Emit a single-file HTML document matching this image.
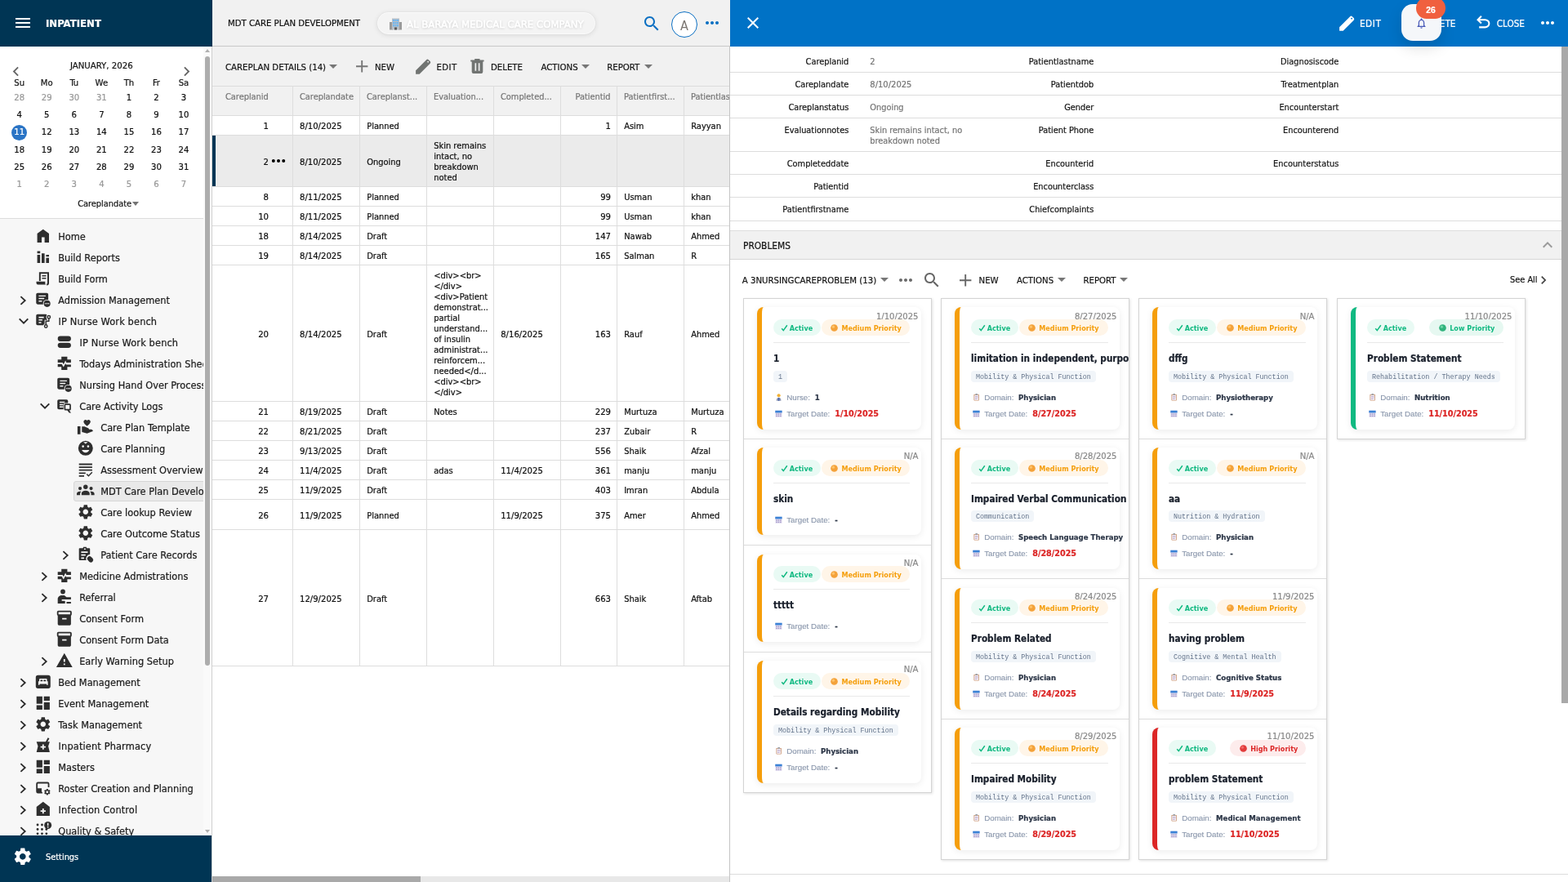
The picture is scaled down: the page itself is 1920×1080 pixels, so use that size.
<!DOCTYPE html>
<html lang="en"><head><meta charset="utf-8"><title>MDT Care Plan Development</title>
<style>
*{box-sizing:border-box;margin:0;padding:0}
html,body{width:1920px;height:1080px;overflow:hidden;background:#fff}
body{font-family:'DejaVu Sans Condensed','Liberation Sans',sans-serif;font-size:11.2px;color:#111;position:relative;-webkit-font-smoothing:antialiased}
.a,.t,.i{position:absolute}
.t{white-space:pre;display:block;-webkit-text-stroke:.22px currentColor}
.i{display:block;overflow:visible}
#side{left:0;top:0;width:260px;height:1080px;background:#f7f7f7;overflow:hidden}
#main{left:260px;top:0;width:634px;height:1080px;background:#fff;overflow:hidden}
#right{left:894px;top:0;width:1026px;height:1080px;background:#fff;overflow:hidden}
.hl{position:absolute;height:1px;background:#ddd}
.vl{position:absolute;width:1px;background:#ddd}
.tree .t{font-size:12.65px;color:#1c1c1c;line-height:20px}
.cell{position:absolute;left:0;width:229px}
.card{position:absolute;border-radius:8px;border-left:6px solid #f59e0b;background:#fff;box-shadow:0 2px 8px rgba(0,0,0,.08)}
.cb{position:absolute;left:0;top:0;right:0;bottom:0}
.bdg{position:absolute;height:20px;padding-top:1px;border-radius:10px;font-weight:700;font-size:9px;line-height:20px;white-space:pre}
.tag{position:absolute;left:14px;height:14px;border-radius:4px;background:#f1f5f9;color:#64748b;font-family:'Liberation Mono','DejaVu Sans Mono',monospace;font-size:8.4px;line-height:16px;padding:0 6px;white-space:pre}
.col{position:absolute;top:365px;border:1px solid #d4d4d4;background:#fff;box-shadow:1px 1px 3px rgba(0,0,0,.12);overflow:hidden}
</style></head>
<body>
<div id="side" class="a">
<div class="a" style="left:0;top:0;width:260px;height:57px;background:#003554"></div>
<svg class="i" style="left:16px;top:16px;width:24px;height:24px;fill:#fff;" viewBox="0 0 24 24"><path d="M3 18h18v-2H3v2zm0-5h18v-2H3v2zm0-7v2h18V6H3z"/></svg><span class="t" style="top:19.00px;line-height:20px;font-size:13.05px;color:#fff;font-weight:700;left:56px;">INPATIENT</span><div class="a" style="left:0;top:57px;width:250px;height:210px;background:#fff"></div>
<div class="hl" style="left:0;top:267px;width:249px"></div>
<span class="t" style="top:71.30px;line-height:20px;font-size:11.3px;color:#161616;left:-25.700000000000003px;width:300px;text-align:center;">JANUARY, 2026</span><svg class="i" style="left:7.7px;top:75.5px;width:23px;height:23px;fill:#666;" viewBox="0 0 24 24"><path d="M15.41 7.41L14 6l-6 6 6 6 1.41-1.41L10.83 12z"/></svg><svg class="i" style="left:217.2px;top:75.5px;width:23px;height:23px;fill:#666;" viewBox="0 0 24 24"><path d="M10 6L8.59 7.41 13.17 12l-4.58 4.59L10 18l6-6z"/></svg><span class="t" style="top:92.00px;line-height:20px;font-size:11.2px;color:#161616;left:-126.3px;width:300px;text-align:center;">Su</span><span class="t" style="top:92.00px;line-height:20px;font-size:11.2px;color:#161616;left:-92.75px;width:300px;text-align:center;">Mo</span><span class="t" style="top:92.00px;line-height:20px;font-size:11.2px;color:#161616;left:-59.2px;width:300px;text-align:center;">Tu</span><span class="t" style="top:92.00px;line-height:20px;font-size:11.2px;color:#161616;left:-25.650000000000006px;width:300px;text-align:center;">We</span><span class="t" style="top:92.00px;line-height:20px;font-size:11.2px;color:#161616;left:7.899999999999977px;width:300px;text-align:center;">Th</span><span class="t" style="top:92.00px;line-height:20px;font-size:11.2px;color:#161616;left:41.44999999999999px;width:300px;text-align:center;">Fr</span><span class="t" style="top:92.00px;line-height:20px;font-size:11.2px;color:#161616;left:74.99999999999997px;width:300px;text-align:center;">Sa</span><span class="t" style="top:110.20px;line-height:20px;font-size:11.2px;color:#999;left:-126.3px;width:300px;text-align:center;">28</span><span class="t" style="top:110.20px;line-height:20px;font-size:11.2px;color:#999;left:-92.75px;width:300px;text-align:center;">29</span><span class="t" style="top:110.20px;line-height:20px;font-size:11.2px;color:#999;left:-59.2px;width:300px;text-align:center;">30</span><span class="t" style="top:110.20px;line-height:20px;font-size:11.2px;color:#999;left:-25.650000000000006px;width:300px;text-align:center;">31</span><span class="t" style="top:110.20px;line-height:20px;font-size:11.2px;color:#101010;left:7.899999999999977px;width:300px;text-align:center;">1</span><span class="t" style="top:110.20px;line-height:20px;font-size:11.2px;color:#101010;left:41.44999999999999px;width:300px;text-align:center;">2</span><span class="t" style="top:110.20px;line-height:20px;font-size:11.2px;color:#101010;left:74.99999999999997px;width:300px;text-align:center;">3</span>
<span class="t" style="top:131.30px;line-height:20px;font-size:11.2px;color:#101010;left:-126.3px;width:300px;text-align:center;">4</span><span class="t" style="top:131.30px;line-height:20px;font-size:11.2px;color:#101010;left:-92.75px;width:300px;text-align:center;">5</span><span class="t" style="top:131.30px;line-height:20px;font-size:11.2px;color:#101010;left:-59.2px;width:300px;text-align:center;">6</span><span class="t" style="top:131.30px;line-height:20px;font-size:11.2px;color:#101010;left:-25.650000000000006px;width:300px;text-align:center;">7</span><span class="t" style="top:131.30px;line-height:20px;font-size:11.2px;color:#101010;left:7.899999999999977px;width:300px;text-align:center;">8</span><span class="t" style="top:131.30px;line-height:20px;font-size:11.2px;color:#101010;left:41.44999999999999px;width:300px;text-align:center;">9</span><span class="t" style="top:131.30px;line-height:20px;font-size:11.2px;color:#101010;left:74.99999999999997px;width:300px;text-align:center;">10</span>
<div class="a" style="left:14.0px;top:152.5px;width:19px;height:19px;border-radius:50%;background:#2a74c5"></div><span class="t" style="top:152.40px;line-height:20px;font-size:11.2px;color:#fff;left:-126.3px;width:300px;text-align:center;">11</span><span class="t" style="top:152.40px;line-height:20px;font-size:11.2px;color:#101010;left:-92.75px;width:300px;text-align:center;">12</span><span class="t" style="top:152.40px;line-height:20px;font-size:11.2px;color:#101010;left:-59.2px;width:300px;text-align:center;">13</span><span class="t" style="top:152.40px;line-height:20px;font-size:11.2px;color:#101010;left:-25.650000000000006px;width:300px;text-align:center;">14</span><span class="t" style="top:152.40px;line-height:20px;font-size:11.2px;color:#101010;left:7.899999999999977px;width:300px;text-align:center;">15</span><span class="t" style="top:152.40px;line-height:20px;font-size:11.2px;color:#101010;left:41.44999999999999px;width:300px;text-align:center;">16</span><span class="t" style="top:152.40px;line-height:20px;font-size:11.2px;color:#101010;left:74.99999999999997px;width:300px;text-align:center;">17</span>
<span class="t" style="top:173.50px;line-height:20px;font-size:11.2px;color:#101010;left:-126.3px;width:300px;text-align:center;">18</span><span class="t" style="top:173.50px;line-height:20px;font-size:11.2px;color:#101010;left:-92.75px;width:300px;text-align:center;">19</span><span class="t" style="top:173.50px;line-height:20px;font-size:11.2px;color:#101010;left:-59.2px;width:300px;text-align:center;">20</span><span class="t" style="top:173.50px;line-height:20px;font-size:11.2px;color:#101010;left:-25.650000000000006px;width:300px;text-align:center;">21</span><span class="t" style="top:173.50px;line-height:20px;font-size:11.2px;color:#101010;left:7.899999999999977px;width:300px;text-align:center;">22</span><span class="t" style="top:173.50px;line-height:20px;font-size:11.2px;color:#101010;left:41.44999999999999px;width:300px;text-align:center;">23</span><span class="t" style="top:173.50px;line-height:20px;font-size:11.2px;color:#101010;left:74.99999999999997px;width:300px;text-align:center;">24</span>
<span class="t" style="top:194.60px;line-height:20px;font-size:11.2px;color:#101010;left:-126.3px;width:300px;text-align:center;">25</span><span class="t" style="top:194.60px;line-height:20px;font-size:11.2px;color:#101010;left:-92.75px;width:300px;text-align:center;">26</span><span class="t" style="top:194.60px;line-height:20px;font-size:11.2px;color:#101010;left:-59.2px;width:300px;text-align:center;">27</span><span class="t" style="top:194.60px;line-height:20px;font-size:11.2px;color:#101010;left:-25.650000000000006px;width:300px;text-align:center;">28</span><span class="t" style="top:194.60px;line-height:20px;font-size:11.2px;color:#101010;left:7.899999999999977px;width:300px;text-align:center;">29</span><span class="t" style="top:194.60px;line-height:20px;font-size:11.2px;color:#101010;left:41.44999999999999px;width:300px;text-align:center;">30</span><span class="t" style="top:194.60px;line-height:20px;font-size:11.2px;color:#101010;left:74.99999999999997px;width:300px;text-align:center;">31</span>
<span class="t" style="top:215.70px;line-height:20px;font-size:11.2px;color:#999;left:-126.3px;width:300px;text-align:center;">1</span><span class="t" style="top:215.70px;line-height:20px;font-size:11.2px;color:#999;left:-92.75px;width:300px;text-align:center;">2</span><span class="t" style="top:215.70px;line-height:20px;font-size:11.2px;color:#999;left:-59.2px;width:300px;text-align:center;">3</span><span class="t" style="top:215.70px;line-height:20px;font-size:11.2px;color:#999;left:-25.650000000000006px;width:300px;text-align:center;">4</span><span class="t" style="top:215.70px;line-height:20px;font-size:11.2px;color:#999;left:7.899999999999977px;width:300px;text-align:center;">5</span><span class="t" style="top:215.70px;line-height:20px;font-size:11.2px;color:#999;left:41.44999999999999px;width:300px;text-align:center;">6</span><span class="t" style="top:215.70px;line-height:20px;font-size:11.2px;color:#999;left:74.99999999999997px;width:300px;text-align:center;">7</span>
<span class="t" style="top:240.00px;line-height:20px;font-size:10.9px;color:#161616;left:95.2px;">Careplandate</span><div class="a" style="left:161.700px;top:247px;border-left:4.700px solid transparent;border-right:4.700px solid transparent;border-top:5.200px solid #747474"></div>
<div class="a tree" style="left:0;top:268px;width:249px;height:755px;overflow:hidden">
<svg class="i" style="left:42.2px;top:9.9px;width:21.6px;height:21.6px;fill:#2e2e2e;color:#2e2e2e;" viewBox="0 0 24 24"><path d="M4 21V9l8-6 8 6v12h-6v-7h-4v7z"/></svg><span class="t" style="top:12.00px;line-height:20px;font-size:12.65px;color:#1c1c1c;left:71.2px;">Home</span>
<svg class="i" style="left:42.2px;top:35.9px;width:21.6px;height:21.6px;fill:#2e2e2e;color:#2e2e2e;" viewBox="0 0 24 24"><path d="M4 9h4v11H4zM4 4h4v3H4zM10 7h4v13h-4zM16 13h4v7h-4zM16 9h4v2.5h-4z"/></svg><span class="t" style="top:38.00px;line-height:20px;font-size:12.65px;color:#1c1c1c;left:71.2px;">Build Reports</span>
<svg class="i" style="left:42.2px;top:61.9px;width:21.6px;height:21.6px;fill:#2e2e2e;color:#2e2e2e;" viewBox="0 0 24 24"><path d="M7.600 15.500V4.600h11.300v14a2 2 0 0 1-2 2" fill="none" stroke="currentColor" stroke-width="2.200"/><path d="M10.500 8.600h5.600M10.500 12h5.600" fill="none" stroke="currentColor" stroke-width="1.800"/><path d="M2.800 16.300h12v2.200a2 2 0 0 0 2 2.100H5a2.200 2.200 0 0 1-2.200-2.200z"/></svg><span class="t" style="top:64.00px;line-height:20px;font-size:12.65px;color:#1c1c1c;left:71.2px;">Build Form</span>
<svg class="i" style="left:18.4px;top:89.5px;width:20px;height:20px" viewBox="0 0 20 20"><path d="M7.400 5.200 12.700 10 7.400 14.800" fill="none" stroke="#2b2b2b" stroke-width="1.800"/></svg><svg class="i" style="left:42.2px;top:87.9px;width:21.6px;height:21.6px;fill:#2e2e2e;color:#2e2e2e;" viewBox="0 0 24 24"><path d="M4.500 3h12.500a2 2 0 0 1 2 2v11.500a2 2 0 0 1-2 2H4.500a2 2 0 0 1-2-2V5a2 2 0 0 1 2-2zM6 6.300v1.600h9.500V6.300zM6 9.800v1.600h7.500V9.800zM6 13.300v1.600h4.500v-1.600z" fill-rule="evenodd"/><circle cx="17.400" cy="17.600" r="5.500" fill="#f7f7f7"/><circle cx="17.400" cy="17.600" r="4.500"/><circle cx="15.300" cy="17.600" r=".85" fill="#f7f7f7"/><circle cx="17.400" cy="17.600" r=".85" fill="#f7f7f7"/><circle cx="19.500" cy="17.600" r=".85" fill="#f7f7f7"/></svg><span class="t" style="top:90.00px;line-height:20px;font-size:12.65px;color:#1c1c1c;left:71.2px;">Admission Management</span>
<svg class="i" style="left:19px;top:115.5px;width:20px;height:20px" viewBox="0 0 20 20"><path d="M4.700 6.400 10 11.700 15.300 6.400" fill="none" stroke="#2b2b2b" stroke-width="1.900"/></svg><svg class="i" style="left:42.2px;top:113.9px;width:21.6px;height:21.6px;fill:#2e2e2e;color:#2e2e2e;" viewBox="0 0 24 24"><path d="M4.500 3h11a2 2 0 0 1 2 2v11a2 2 0 0 1-2 2h-11a2 2 0 0 1-2-2V5a2 2 0 0 1 2-2zM6 6.500v1.700h7V6.500zM6 10v1.700h5V10zM6 13.500v1.700h3.500v-1.700z" fill-rule="evenodd"/><path d="M19.800 9v3.500h-4v5" fill="none" stroke="#f7f7f7" stroke-width="3.600"/><circle cx="19.800" cy="7" r="3.600" fill="#f7f7f7"/><circle cx="15.800" cy="19.500" r="3.600" fill="#f7f7f7"/><path d="M19.800 9v3.500h-4v5" fill="none" stroke="currentColor" stroke-width="1.600"/><circle cx="19.800" cy="7" r="1.900" fill="#f7f7f7" stroke="currentColor" stroke-width="1.600"/><circle cx="15.800" cy="19.500" r="1.900" fill="#f7f7f7" stroke="currentColor" stroke-width="1.600"/></svg><span class="t" style="top:116.00px;line-height:20px;font-size:12.65px;color:#1c1c1c;left:71.6px;letter-spacing:.14px;">IP Nurse Work bench</span>
<svg class="i" style="left:68.2px;top:139.9px;width:21.6px;height:21.6px;fill:#2e2e2e;color:#2e2e2e;" viewBox="0 0 24 24"><rect x="3" y="4" width="18" height="7" rx="3.5"/><rect x="3" y="13" width="18" height="7" rx="3.5"/></svg><span class="t" style="top:142.00px;line-height:20px;font-size:12.65px;color:#1c1c1c;left:97.6px;letter-spacing:.14px;">IP Nurse Work bench</span>
<svg class="i" style="left:68.2px;top:165.9px;width:21.6px;height:21.6px;fill:#2e2e2e;color:#2e2e2e;" viewBox="0 0 24 24"><path d="M8 3h8v4h5v4h-6.2l-1.3-2.6-2.6 5.2L9.6 11H3V7h5zM3 13h5.4l2.5 4.3 2.6-5.2.9 1.9H21v3h-5v4H8v-4H3z"/></svg><span class="t" style="top:168.00px;line-height:20px;font-size:12.65px;color:#1c1c1c;left:97.2px;">Todays Administration Sheet</span>
<svg class="i" style="left:68.2px;top:191.9px;width:21.6px;height:21.6px;fill:#2e2e2e;color:#2e2e2e;" viewBox="0 0 24 24"><path d="M4.500 3h12.500a2 2 0 0 1 2 2v11.500a2 2 0 0 1-2 2H4.500a2 2 0 0 1-2-2V5a2 2 0 0 1 2-2zM6 6.300v1.600h9.500V6.300zM6 9.800v1.600h7.500V9.800zM6 13.300v1.600h4.500v-1.600z" fill-rule="evenodd"/><circle cx="17.400" cy="17.600" r="5.500" fill="#f7f7f7"/><circle cx="17.400" cy="17.600" r="4.500"/><circle cx="15.300" cy="17.600" r=".85" fill="#f7f7f7"/><circle cx="17.400" cy="17.600" r=".85" fill="#f7f7f7"/><circle cx="19.500" cy="17.600" r=".85" fill="#f7f7f7"/></svg><span class="t" style="top:194.00px;line-height:20px;font-size:12.65px;color:#1c1c1c;left:97.2px;">Nursing Hand Over Process</span>
<svg class="i" style="left:45px;top:219.5px;width:20px;height:20px" viewBox="0 0 20 20"><path d="M4.700 6.400 10 11.700 15.300 6.400" fill="none" stroke="#2b2b2b" stroke-width="1.900"/></svg><svg class="i" style="left:68.2px;top:217.9px;width:21.6px;height:21.6px;fill:#2e2e2e;color:#2e2e2e;" viewBox="0 0 24 24"><path d="M4.500 3.500h10.500a2 2 0 0 1 2 2v9.500a2 2 0 0 1-2 2H4.500a2 2 0 0 1-2-2V5.500a2 2 0 0 1 2-2zM5.500 6.500v1.600h7V6.500zM5.500 9.700v1.600h5V9.700zM5.500 12.900v1.600h5v-1.600z" fill-rule="evenodd"/><rect x="10.800" y="8.300" width="11.200" height="11.200" rx="2.500" fill="#f7f7f7"/><path d="M13.500 9.300h5.700a1.800 1.800 0 0 1 1.800 1.800v5.500a1.800 1.800 0 0 1-1.800 1.800h-.6l2.600 3.400h-2.600l-2.600-3.400h-2.500a1.800 1.800 0 0 1-1.800-1.800v-5.500a1.800 1.800 0 0 1 1.800-1.800zM13.600 11.200v5.300h5.500v-5.300z" fill-rule="evenodd"/></svg><span class="t" style="top:220.00px;line-height:20px;font-size:12.65px;color:#1c1c1c;left:97.2px;">Care Activity Logs</span>
<svg class="i" style="left:94.2px;top:243.9px;width:21.6px;height:21.6px;fill:#2e2e2e;color:#2e2e2e;" viewBox="0 0 24 24"><path d="M16 2.2c1.5 0 2.7 1.2 2.7 2.7 0 2-2.600 3.900-4.700 5.800-2.100-1.900-4.700-3.800-4.700-5.800 0-1.500 1.200-2.700 2.700-2.700.8 0 1.500.400 2 1 .5-.6 1.200-1 2-1zM1 11h4v11H1zM7 11.500h3.500l5 2c.8.3 1.200 1 1.100 1.800h2.900c1.400 0 2.500 1.100 2.500 2.500l-8 3-7-2z"/></svg><span class="t" style="top:246.00px;line-height:20px;font-size:12.65px;color:#1c1c1c;left:123.2px;">Care Plan Template</span>
<svg class="i" style="left:94.2px;top:269.9px;width:21.6px;height:21.6px;fill:#2e2e2e;color:#2e2e2e;" viewBox="0 0 24 24"><path d="M12 2a10 10 0 1 0 0 20 10 10 0 0 0 0-20zM8.500 8a1.500 1.500 0 1 1 0 3 1.500 1.500 0 0 1 0-3zm7 0a1.500 1.500 0 1 1 0 3 1.500 1.500 0 0 1 0-3zM12 18c-2.300 0-4.300-1.400-5.100-3.500h10.200c-.8 2.100-2.800 3.500-5.100 3.500zM9 3.500 12 6l3-2.500" fill-rule="evenodd"/></svg><span class="t" style="top:272.00px;line-height:20px;font-size:12.65px;color:#1c1c1c;left:123.2px;">Care Planning</span>
<svg class="i" style="left:94.2px;top:295.9px;width:21.6px;height:21.6px;fill:#2e2e2e;color:#2e2e2e;" viewBox="0 0 24 24"><path d="M3 4h18v2H3zM3 8h18v2H3zM3 12h18v2H3zM3 16h9v2H3zM3 20h7v2H3zM21.500 16.500 16 22l-3-3 1.200-1.200 1.800 1.800 4.300-4.300z"/></svg><span class="t" style="top:298.00px;line-height:20px;font-size:12.65px;color:#1c1c1c;left:123.2px;">Assessment Overview</span>
<div class="a" style="left:90px;top:321.0px;width:170px;height:25px;background:#e9e9e9;border:1px solid #d6d6d6;border-radius:3px"></div><svg class="i" style="left:94.2px;top:321.9px;width:21.6px;height:21.6px;fill:#2e2e2e;color:#2e2e2e;" viewBox="0 0 24 24"><circle cx="12" cy="7" r="3"/><circle cx="4.500" cy="9" r="2.300"/><circle cx="19.500" cy="9" r="2.300"/><path d="M6.500 18v-2.500c0-2 2.500-3.500 5.500-3.500s5.500 1.500 5.500 3.500V18zM0 18v-2c0-1.700 1.800-3 4.500-3 .5 0 1 .1 1.400.2-.8.800-1.400 1.800-1.400 3V18zM24 18v-2c0-1.700-1.800-3-4.500-3-.5 0-1 .1-1.400.2.800.800 1.400 1.800 1.400 3V18z"/></svg><span class="t" style="top:324.00px;line-height:20px;font-size:12.65px;color:#1c1c1c;left:123.2px;">MDT Care Plan Development</span>
<svg class="i" style="left:94.2px;top:347.9px;width:21.6px;height:21.6px;fill:#2e2e2e;color:#2e2e2e;" viewBox="0 0 24 24"><path d="M19.14 12.94c.04-.3.06-.61.06-.94 0-.32-.02-.64-.07-.94l2.03-1.58c.18-.14.23-.41.12-.61l-1.92-3.32c-.12-.22-.37-.29-.59-.22l-2.39.96c-.5-.38-1.03-.7-1.62-.94l-.36-2.54c-.04-.24-.24-.41-.48-.41h-3.84c-.24 0-.43.17-.47.41l-.36 2.54c-.59.24-1.13.57-1.62.94l-2.39-.96c-.22-.08-.47 0-.59.22L2.74 8.87c-.12.21-.08.47.12.61l2.03 1.58c-.05.3-.09.63-.09.94s.02.64.07.94l-2.03 1.58c-.18.14-.23.41-.12.61l1.92 3.32c.12.22.37.29.59.22l2.39-.96c.5.38 1.03.7 1.62.94l.36 2.54c.05.24.24.41.48.41h3.84c.24 0 .44-.17.47-.41l.36-2.54c.59-.24 1.13-.56 1.62-.94l2.39.96c.22.08.47 0 .59-.22l1.92-3.32c.12-.22.07-.47-.12-.61l-2.01-1.58zM12 15.6c-1.98 0-3.6-1.62-3.6-3.6s1.62-3.6 3.6-3.6 3.6 1.62 3.6 3.6-1.62 3.6-3.6 3.6z"/></svg><span class="t" style="top:350.00px;line-height:20px;font-size:12.65px;color:#1c1c1c;left:123.2px;">Care lookup Review</span>
<svg class="i" style="left:94.2px;top:373.9px;width:21.6px;height:21.6px;fill:#2e2e2e;color:#2e2e2e;" viewBox="0 0 24 24"><path d="M19.14 12.94c.04-.3.06-.61.06-.94 0-.32-.02-.64-.07-.94l2.03-1.58c.18-.14.23-.41.12-.61l-1.92-3.32c-.12-.22-.37-.29-.59-.22l-2.39.96c-.5-.38-1.03-.7-1.62-.94l-.36-2.54c-.04-.24-.24-.41-.48-.41h-3.84c-.24 0-.43.17-.47.41l-.36 2.54c-.59.24-1.13.57-1.62.94l-2.39-.96c-.22-.08-.47 0-.59.22L2.74 8.87c-.12.21-.08.47.12.61l2.03 1.58c-.05.3-.09.63-.09.94s.02.64.07.94l-2.03 1.58c-.18.14-.23.41-.12.61l1.92 3.32c.12.22.37.29.59.22l2.39-.96c.5.38 1.03.7 1.62.94l.36 2.54c.05.24.24.41.48.41h3.84c.24 0 .44-.17.47-.41l.36-2.54c.59-.24 1.13-.56 1.62-.94l2.39.96c.22.08.47 0 .59-.22l1.92-3.32c.12-.22.07-.47-.12-.61l-2.01-1.58zM12 15.6c-1.98 0-3.6-1.62-3.6-3.6s1.62-3.6 3.6-3.6 3.6 1.62 3.6 3.6-1.62 3.6-3.6 3.6z"/></svg><span class="t" style="top:376.00px;line-height:20px;font-size:12.65px;color:#1c1c1c;left:123.2px;">Care Outcome Status</span>
<svg class="i" style="left:70.4px;top:401.5px;width:20px;height:20px" viewBox="0 0 20 20"><path d="M7.400 5.200 12.700 10 7.400 14.800" fill="none" stroke="#2b2b2b" stroke-width="1.800"/></svg><svg class="i" style="left:94.2px;top:399.9px;width:21.6px;height:21.6px;fill:#2e2e2e;color:#2e2e2e;" viewBox="0 0 24 24"><path d="M9 2h4l.6 1.500H17a1 1 0 0 1 1 1V12a6 6 0 0 0-5 8H4a1 1 0 0 1-1-1V4.500a1 1 0 0 1 1-1h4.400zM10 4v1.500h2V4zM6 8v2h9V8zM6 12v2h6v-2zM6 16v2h4v-2z" fill-rule="evenodd"/><path d="M15.200 15.600a3.200 3.200 0 0 1 4.500 0l2 2a3.200 3.200 0 0 1-4.500 4.500l-2-2a3.200 3.200 0 0 1 0-4.500z"/></svg><span class="t" style="top:402.00px;line-height:20px;font-size:12.65px;color:#1c1c1c;left:123.2px;">Patient Care Records</span>
<svg class="i" style="left:44.4px;top:427.5px;width:20px;height:20px" viewBox="0 0 20 20"><path d="M7.400 5.200 12.700 10 7.400 14.800" fill="none" stroke="#2b2b2b" stroke-width="1.800"/></svg><svg class="i" style="left:68.2px;top:425.9px;width:21.6px;height:21.6px;fill:#2e2e2e;color:#2e2e2e;" viewBox="0 0 24 24"><path d="M8 3h8v4h5v4h-6.2l-1.3-2.6-2.6 5.2L9.6 11H3V7h5zM3 13h5.4l2.5 4.3 2.6-5.2.9 1.9H21v3h-5v4H8v-4H3z"/></svg><span class="t" style="top:428.00px;line-height:20px;font-size:12.65px;color:#1c1c1c;left:97.2px;">Medicine Admistrations</span>
<svg class="i" style="left:44.4px;top:453.5px;width:20px;height:20px" viewBox="0 0 20 20"><path d="M7.400 5.200 12.700 10 7.400 14.800" fill="none" stroke="#2b2b2b" stroke-width="1.800"/></svg><svg class="i" style="left:68.2px;top:451.9px;width:21.6px;height:21.6px;fill:#2e2e2e;color:#2e2e2e;" viewBox="0 0 24 24"><circle cx="10" cy="5" r="3.200"/><path d="M3 15c0-3 2.500-5 6-5h3l3 2.500h6v3H8.500v2H13V21H3zM15 19h6v2h-6z"/></svg><span class="t" style="top:454.00px;line-height:20px;font-size:12.65px;color:#1c1c1c;left:97.2px;">Referral</span>
<svg class="i" style="left:68.2px;top:477.9px;width:21.6px;height:21.6px;fill:#2e2e2e;color:#2e2e2e;" viewBox="0 0 24 24"><path d="M20 2H4c-1 0-2 .9-2 2v3.01c0 .72.43 1.34 1 1.69V20c0 1.1 1.1 2 2 2h14c.9 0 2-.9 2-2V8.7c.57-.35 1-.97 1-1.69V4c0-1.1-1-2-2-2zm-5 12H9v-2h6v2zm5-7H4V4h16v3z"/></svg><span class="t" style="top:480.00px;line-height:20px;font-size:12.65px;color:#1c1c1c;left:97.2px;">Consent Form</span>
<svg class="i" style="left:68.2px;top:503.9px;width:21.6px;height:21.6px;fill:#2e2e2e;color:#2e2e2e;" viewBox="0 0 24 24"><path d="M20 2H4c-1 0-2 .9-2 2v3.01c0 .72.43 1.34 1 1.69V20c0 1.1 1.1 2 2 2h14c.9 0 2-.9 2-2V8.7c.57-.35 1-.97 1-1.69V4c0-1.1-1-2-2-2zm-5 12H9v-2h6v2zm5-7H4V4h16v3z"/></svg><span class="t" style="top:506.00px;line-height:20px;font-size:12.65px;color:#1c1c1c;left:97.2px;">Consent Form Data</span>
<svg class="i" style="left:44.4px;top:531.5px;width:20px;height:20px" viewBox="0 0 20 20"><path d="M7.400 5.200 12.700 10 7.400 14.800" fill="none" stroke="#2b2b2b" stroke-width="1.800"/></svg><svg class="i" style="left:68.2px;top:529.9px;width:21.6px;height:21.6px;fill:#2e2e2e;color:#2e2e2e;" viewBox="0 0 24 24"><path d="M1 21h22L12 2 1 21zm12-3h-2v-2h2v2zm0-4h-2v-4h2v4z"/></svg><span class="t" style="top:532.00px;line-height:20px;font-size:12.65px;color:#1c1c1c;left:97.2px;">Early Warning Setup</span>
<svg class="i" style="left:18.4px;top:557.5px;width:20px;height:20px" viewBox="0 0 20 20"><path d="M7.400 5.200 12.700 10 7.400 14.800" fill="none" stroke="#2b2b2b" stroke-width="1.800"/></svg><svg class="i" style="left:42.2px;top:555.9px;width:21.6px;height:21.6px;fill:#2e2e2e;color:#2e2e2e;" viewBox="0 0 24 24"><path d="M5 3h14a3 3 0 0 1 3 3v12a3 3 0 0 1-3 3H5a3 3 0 0 1-3-3V6a3 3 0 0 1 3-3zM5.500 16.500v-5h1.200V9a1.200 1.200 0 0 1 1.200-1.200h8.200A1.200 1.200 0 0 1 17.300 9v2.500h1.200v5h-1.700v-1.500H7.200v1.500zM8.300 9.500v2h3v-2zm4.400 0v2h3v-2z" fill-rule="evenodd"/></svg><span class="t" style="top:558.00px;line-height:20px;font-size:12.65px;color:#1c1c1c;left:71.2px;">Bed Management</span>
<svg class="i" style="left:18.4px;top:583.5px;width:20px;height:20px" viewBox="0 0 20 20"><path d="M7.400 5.200 12.700 10 7.400 14.800" fill="none" stroke="#2b2b2b" stroke-width="1.800"/></svg><svg class="i" style="left:42.2px;top:581.9px;width:21.6px;height:21.6px;fill:#2e2e2e;color:#2e2e2e;" viewBox="0 0 24 24"><path d="M3 13h8V3H3v10zm0 8h8v-6H3v6zm10 0h8V11h-8v10zm0-18v6h8V3h-8z"/></svg><span class="t" style="top:584.00px;line-height:20px;font-size:12.65px;color:#1c1c1c;left:71.2px;">Event Management</span>
<svg class="i" style="left:18.4px;top:609.5px;width:20px;height:20px" viewBox="0 0 20 20"><path d="M7.400 5.200 12.700 10 7.400 14.800" fill="none" stroke="#2b2b2b" stroke-width="1.800"/></svg><svg class="i" style="left:42.2px;top:607.9px;width:21.6px;height:21.6px;fill:#2e2e2e;color:#2e2e2e;" viewBox="0 0 24 24"><path d="M19.14 12.94c.04-.3.06-.61.06-.94 0-.32-.02-.64-.07-.94l2.03-1.58c.18-.14.23-.41.12-.61l-1.92-3.32c-.12-.22-.37-.29-.59-.22l-2.39.96c-.5-.38-1.03-.7-1.62-.94l-.36-2.54c-.04-.24-.24-.41-.48-.41h-3.84c-.24 0-.43.17-.47.41l-.36 2.54c-.59.24-1.13.57-1.62.94l-2.39-.96c-.22-.08-.47 0-.59.22L2.74 8.87c-.12.21-.08.47.12.61l2.03 1.58c-.05.3-.09.63-.09.94s.02.64.07.94l-2.03 1.58c-.18.14-.23.41-.12.61l1.92 3.32c.12.22.37.29.59.22l2.39-.96c.5.38 1.03.7 1.62.94l.36 2.54c.05.24.24.41.48.41h3.84c.24 0 .44-.17.47-.41l.36-2.54c.59-.24 1.13-.56 1.62-.94l2.39.96c.22.08.47 0 .59-.22l1.92-3.32c.12-.22.07-.47-.12-.61l-2.01-1.58zM12 15.6c-1.98 0-3.6-1.62-3.6-3.6s1.62-3.6 3.6-3.6 3.6 1.62 3.6 3.6-1.62 3.6-3.6 3.6z"/></svg><span class="t" style="top:610.00px;line-height:20px;font-size:12.65px;color:#1c1c1c;left:71.2px;">Task Management</span>
<svg class="i" style="left:18.4px;top:635.5px;width:20px;height:20px" viewBox="0 0 20 20"><path d="M7.400 5.200 12.700 10 7.400 14.800" fill="none" stroke="#2b2b2b" stroke-width="1.800"/></svg><svg class="i" style="left:42.2px;top:633.9px;width:21.6px;height:21.6px;fill:#2e2e2e;color:#2e2e2e;" viewBox="0 0 24 24"><path d="M18.500 1.500 20.500 2.500 18 7h3l-2 6 2 8H3l2-8-2-6h12.500zM11 10.500v2.500H8.500v2H11v2.500h2V15h2.500v-2H13v-2.500z" fill-rule="evenodd"/></svg><span class="t" style="top:636.00px;line-height:20px;font-size:12.65px;color:#1c1c1c;left:71.6px;letter-spacing:.14px;">Inpatient Pharmacy</span>
<svg class="i" style="left:18.4px;top:661.5px;width:20px;height:20px" viewBox="0 0 20 20"><path d="M7.400 5.200 12.700 10 7.400 14.800" fill="none" stroke="#2b2b2b" stroke-width="1.800"/></svg><svg class="i" style="left:42.2px;top:659.9px;width:21.6px;height:21.6px;fill:#2e2e2e;color:#2e2e2e;" viewBox="0 0 24 24"><path d="M3 13h8V3H3v10zm0 8h8v-6H3v6zm10 0h8V11h-8v10zm0-18v6h8V3h-8z"/></svg><span class="t" style="top:662.00px;line-height:20px;font-size:12.65px;color:#1c1c1c;left:71.2px;">Masters</span>
<svg class="i" style="left:18.4px;top:687.5px;width:20px;height:20px" viewBox="0 0 20 20"><path d="M7.400 5.200 12.700 10 7.400 14.800" fill="none" stroke="#2b2b2b" stroke-width="1.800"/></svg><svg class="i" style="left:42.2px;top:685.9px;width:21.6px;height:21.6px;fill:#2e2e2e;color:#2e2e2e;" viewBox="0 0 24 24"><path d="M19.500 11V6.500a1.500 1.500 0 0 0-1.500-1.500H5a1.500 1.500 0 0 0-1.500 1.500V17a1.500 1.500 0 0 0 1.500 1.500h6" fill="none" stroke="currentColor" stroke-width="2"/><path d="M3.500 12.500h6.500v6H5a1.500 1.500 0 0 1-1.500-1.500z"/><g transform="translate(12.300 12.300) scale(.44)"><path d="M19.14 12.94c.04-.3.06-.61.06-.94 0-.32-.02-.64-.07-.94l2.03-1.58c.18-.14.23-.41.12-.61l-1.92-3.32c-.12-.22-.37-.29-.59-.22l-2.39.96c-.5-.38-1.03-.7-1.62-.94l-.36-2.54c-.04-.24-.24-.41-.48-.41h-3.84c-.24 0-.43.17-.47.41l-.36 2.54c-.59.24-1.13.57-1.62.94l-2.39-.96c-.22-.08-.47 0-.59.22L2.74 8.87c-.12.21-.08.47.12.61l2.03 1.58c-.05.3-.09.63-.09.94s.02.64.07.94l-2.03 1.58c-.18.14-.23.41-.12.61l1.92 3.32c.12.22.37.29.59.22l2.39-.96c.5.38 1.03.7 1.62.94l.36 2.54c.05.24.24.41.48.41h3.84c.24 0 .44-.17.47-.41l.36-2.54c.59-.24 1.13-.56 1.62-.94l2.39.96c.22.08.47 0 .59-.22l1.92-3.32c.12-.22.07-.47-.12-.61l-2.01-1.58zM12 15.6c-1.98 0-3.6-1.62-3.6-3.6s1.62-3.6 3.6-3.6 3.6 1.62 3.6 3.6-1.62 3.6-3.6 3.6z"/></g></svg><span class="t" style="top:688.00px;line-height:20px;font-size:12.65px;color:#1c1c1c;left:71.2px;">Roster Creation and Planning</span>
<svg class="i" style="left:18.4px;top:713.5px;width:20px;height:20px" viewBox="0 0 20 20"><path d="M7.400 5.200 12.700 10 7.400 14.800" fill="none" stroke="#2b2b2b" stroke-width="1.800"/></svg><svg class="i" style="left:42.2px;top:711.9px;width:21.6px;height:21.6px;fill:#2e2e2e;color:#2e2e2e;" viewBox="0 0 24 24"><path d="M12 2l9 7v12H3V9zM11 11v2.500H8.500v2H11V18h2v-2.500h2.500v-2H13V11z" fill-rule="evenodd"/></svg><span class="t" style="top:714.00px;line-height:20px;font-size:12.65px;color:#1c1c1c;left:71.6px;letter-spacing:.14px;">Infection Control</span>
<svg class="i" style="left:18.4px;top:739.5px;width:20px;height:20px" viewBox="0 0 20 20"><path d="M7.400 5.200 12.700 10 7.400 14.800" fill="none" stroke="#2b2b2b" stroke-width="1.800"/></svg><svg class="i" style="left:42.2px;top:737.9px;width:21.6px;height:21.6px;fill:#2e2e2e;color:#2e2e2e;" viewBox="0 0 24 24"><circle cx="4.5" cy="10.5" r="1.600"/><circle cx="4.5" cy="16.5" r="1.600"/><circle cx="4.5" cy="22.5" r="1.600"/><circle cx="10.5" cy="10.5" r="1.600"/><circle cx="10.5" cy="16.5" r="1.600"/><circle cx="10.5" cy="22.5" r="1.600"/><circle cx="16.5" cy="10.5" r="1.600"/><circle cx="16.5" cy="16.5" r="1.600"/><circle cx="16.5" cy="22.5" r="1.600"/><circle cx="4.500" cy="4.500" r="1.600"/><circle cx="10.500" cy="4.500" r="1.600"/><circle cx="18.500" cy="5" r="5"/><rect x="17.700" y="1.800" width="1.600" height="4" fill="#f7f7f7"/><rect x="17.700" y="6.700" width="1.600" height="1.600" fill="#f7f7f7"/></svg><span class="t" style="top:740.00px;line-height:20px;font-size:12.65px;color:#1c1c1c;left:71.2px;">Quality &amp; Safety</span>
</div>
<div class="a" style="left:249px;top:57px;width:10px;height:966px;background:#fafafa"></div><div class="a" style="left:251px;top:60px;border-left:3px solid transparent;border-right:3px solid transparent;border-bottom:4px solid #b0b0b0"></div><div class="a" style="left:251px;top:1016px;border-left:3px solid transparent;border-right:3px solid transparent;border-top:4px solid #b0b0b0"></div><div class="a" style="left:251px;top:69px;width:6px;height:746px;border-radius:3px;background:#adadad"></div><div class="vl" style="left:259px;top:57px;height:1023px;background:#cfcfcf"></div>
<div class="a" style="left:0;top:1023px;width:259px;height:57px;background:#003554"></div><svg class="i" style="left:15.2px;top:1036.2px;width:25.6px;height:25.6px;fill:#fff;" viewBox="0 0 24 24"><path d="M19.14 12.94c.04-.3.06-.61.06-.94 0-.32-.02-.64-.07-.94l2.03-1.58c.18-.14.23-.41.12-.61l-1.92-3.32c-.12-.22-.37-.29-.59-.22l-2.39.96c-.5-.38-1.03-.7-1.62-.94l-.36-2.54c-.04-.24-.24-.41-.48-.41h-3.84c-.24 0-.43.17-.47.41l-.36 2.54c-.59.24-1.13.57-1.62.94l-2.39-.96c-.22-.08-.47 0-.59.22L2.74 8.87c-.12.21-.08.47.12.61l2.03 1.58c-.05.3-.09.63-.09.94s.02.64.07.94l-2.03 1.58c-.18.14-.23.41-.12.61l1.92 3.32c.12.22.37.29.59.22l2.39-.96c.5.38 1.03.7 1.62.94l.36 2.54c.05.24.24.41.48.41h3.84c.24 0 .44-.17.47-.41l.36-2.54c.59-.24 1.13-.56 1.62-.94l2.39.96c.22.08.47 0 .59-.22l1.92-3.32c.12-.22.07-.47-.12-.61l-2.01-1.58zM12 15.6c-1.98 0-3.6-1.62-3.6-3.6s1.62-3.6 3.6-3.6 3.6 1.62 3.6 3.6-1.62 3.6-3.6 3.6z"/></svg><span class="t" style="top:1040.00px;line-height:20px;font-size:10.9px;color:#fff;left:56px;">Settings</span></div>
<div id="main" class="a">
<div class="a" style="left:0;top:0;width:634px;height:141px;background:#f1f1f1"></div><div class="hl" style="left:0;top:56px;width:634px;background:#c9c9c9"></div><span class="t" style="top:19.00px;line-height:20px;font-size:11.25px;color:#111;left:19px;">MDT CARE PLAN DEVELOPMENT</span><div class="a" style="left:202px;top:15px;width:267px;height:27px;border-radius:14px;background:#f4f4f4;border:1px solid rgba(255,255,255,.55);box-shadow:0 1px 6px rgba(0,0,0,.11),0 0 2px rgba(0,0,0,.05)"></div><svg class="i" style="left:216.5px;top:21.5px;width:15px;height:15px" viewBox="0 0 15 15"><rect x="0" y="5" width="4" height="9.5" fill="#9a9a9a"/><rect x="11" y="5" width="4" height="9.5" fill="#9a9a9a"/><rect x="3" y="0.500" width="9" height="14" fill="#b9bfc6"/><g fill="#6fb7f0"><rect x="4" y="1.800" width="2" height="2.200"/><rect x="6.500" y="1.800" width="2" height="2.200"/><rect x="9" y="1.800" width="2" height="2.200"/><rect x="4" y="5" width="2" height="2.200"/><rect x="6.500" y="5" width="2" height="2.200"/><rect x="9" y="5" width="2" height="2.200"/><rect x="4" y="8.200" width="2" height="2.200"/><rect x="6.500" y="8.200" width="2" height="2.200"/><rect x="9" y="8.200" width="2" height="2.200"/></g><rect x="6" y="11.500" width="3" height="3" fill="#5a5a5a"/></svg><span class="t" style="top:20.30px;line-height:20px;font-size:13.05px;color:#fff;left:238px;-webkit-text-stroke:.55px #fff;text-shadow:0 1px 3px rgba(0,0,0,.22);">AL BARAYA MEDICAL CARE COMPANY</span><svg class="i" style="left:526px;top:17px;width:24px;height:24px;fill:#0b6fc2;" viewBox="0 0 24 24"><path d="M15.5 14h-.79l-.28-.27C15.41 12.59 16 11.11 16 9.5 16 5.91 13.09 3 9.5 3S3 5.91 3 9.5 5.91 16 9.5 16c1.61 0 3.09-.59 4.23-1.57l.27.28v.79l5 4.99L20.49 19l-4.99-5zm-6 0C7.01 14 5 11.99 5 9.5S7.01 5 9.5 5 14 7.01 14 9.5 11.99 14 9.5 14z"/></svg><div class="a" style="left:562px;top:14px;width:32px;height:32px;border-radius:50%;border:1.5px solid #0b6fc2;background:#fff"></div><span class="t" style="top:21.50px;line-height:20px;font-size:16px;color:#7a7570;left:428px;width:300px;text-align:center;-webkit-text-stroke:0;">A</span><svg class="i" style="left:600px;top:16px;width:24px;height:24px;fill:#0b6fc2;" viewBox="0 0 24 24"><path d="M6 10c-1.1 0-2 .9-2 2s.9 2 2 2 2-.9 2-2-.9-2-2-2zm12 0c-1.1 0-2 .9-2 2s.9 2 2 2 2-.9 2-2-.9-2-2-2zm-6 0c-1.1 0-2 .9-2 2s.9 2 2 2 2-.9 2-2-.9-2-2-2z"/></svg>
<span class="t" style="top:73.00px;line-height:20px;font-size:11.3px;color:#161616;left:16px;">CAREPLAN DETAILS (14)</span><div class="a" style="left:143.3px;top:79.0px;border-left:5px solid transparent;border-right:5px solid transparent;border-top:5.500px solid #777"></div><svg class="i" style="left:175.60000000000002px;top:74px;width:14.400px;height:14.400px" viewBox="0 0 14.400 14.400"><path d="M0 7.200h14.400M7.200 0v14.400" stroke="#777" stroke-width="1.900" fill="none"/></svg><span class="t" style="top:73.00px;line-height:20px;font-size:11.3px;color:#161616;left:199px;">NEW</span><svg class="i" style="left:246.10000000000002px;top:70.5px;width:22.8px;height:22.8px;fill:#717472;" viewBox="0 0 20 20"><g transform="rotate(45 10 10)"><path d="M7.200 1.300a1.600 1.600 0 0 1 1.600-1.600h2.400a1.600 1.600 0 0 1 1.600 1.600V17.500L10 20.300 7.200 17.500z"/><circle cx="10" cy="1.700" r=".8" fill="#f1f1f1"/></g></svg><span class="t" style="top:73.00px;line-height:20px;font-size:11.3px;color:#161616;left:274.4px;letter-spacing:.45px;">EDIT</span><svg class="i" style="left:316px;top:71px;width:20px;height:20px;fill:#717472;" viewBox="0 0 20 20"><path fill-rule="evenodd" d="M5.200 1h6.300v1.400h4.700a.4.4 0 0 1 .4.4v1.200a.4.4 0 0 1-.4.4H.6a.4.4 0 0 1-.4-.4V2.800a.4.4 0 0 1 .4-.4h4.600zM1.700 4.400h13.600V17a2 2 0 0 1-2 2H3.700a2 2 0 0 1-2-2zM5.500 6.200v9.500h1.700V6.200zm4.300 0v9.500h1.700V6.200z"/></svg><span class="t" style="top:73.00px;line-height:20px;font-size:11.3px;color:#161616;left:341px;">DELETE</span><span class="t" style="top:73.00px;line-height:20px;font-size:11.3px;color:#161616;left:402.5px;">ACTIONS</span><div class="a" style="left:452.20000000000005px;top:79.0px;border-left:5px solid transparent;border-right:5px solid transparent;border-top:5.500px solid #777"></div><span class="t" style="top:73.00px;line-height:20px;font-size:11.3px;color:#161616;left:483.20000000000005px;">REPORT</span><div class="a" style="left:528.5px;top:79.0px;border-left:5px solid transparent;border-right:5px solid transparent;border-top:5.500px solid #777"></div>
<div class="hl" style="left:0;top:105px;width:634px;background:#dcdcdc"></div><span class="t" style="top:108.50px;line-height:20px;font-size:10.9px;color:#777;left:16px;">Careplanid</span><span class="t" style="top:108.50px;line-height:20px;font-size:10.9px;color:#777;left:107px;">Careplandate</span><span class="t" style="top:108.50px;line-height:20px;font-size:10.9px;color:#777;left:189px;">Careplanst...</span><span class="t" style="top:108.50px;line-height:20px;font-size:10.9px;color:#777;left:271px;">Evaluation...</span><span class="t" style="top:108.50px;line-height:20px;font-size:10.9px;color:#777;left:353px;">Completed...</span><span class="t" style="top:108.50px;line-height:20px;font-size:10.9px;color:#777;right:146.5px;">Patientid</span><span class="t" style="top:108.50px;line-height:20px;font-size:10.9px;color:#777;left:504px;">Patientfirst...</span><span class="t" style="top:108.50px;line-height:20px;font-size:10.9px;color:#777;left:586px;">Patientlastname</span>
<div class="a" style="left:0;top:166px;width:634px;height:62px;background:#ebebeb"></div><div class="a" style="left:0;top:166px;width:4px;height:62px;background:#003554"></div><div class="vl" style="left:98px;top:105px;height:710px"></div><div class="vl" style="left:180px;top:105px;height:710px"></div><div class="vl" style="left:262px;top:105px;height:710px"></div><div class="vl" style="left:344px;top:105px;height:710px"></div><div class="vl" style="left:426px;top:105px;height:710px"></div><div class="vl" style="left:495px;top:105px;height:710px"></div><div class="vl" style="left:577px;top:105px;height:710px"></div><div class="hl" style="left:0;top:141px;width:634px"></div><div class="hl" style="left:0;top:165px;width:634px"></div><div class="hl" style="left:0;top:228px;width:634px"></div><div class="hl" style="left:0;top:252px;width:634px"></div><div class="hl" style="left:0;top:276px;width:634px"></div><div class="hl" style="left:0;top:300px;width:634px"></div><div class="hl" style="left:0;top:324px;width:634px"></div><div class="hl" style="left:0;top:491px;width:634px"></div><div class="hl" style="left:0;top:515px;width:634px"></div><div class="hl" style="left:0;top:539px;width:634px"></div><div class="hl" style="left:0;top:563px;width:634px"></div><div class="hl" style="left:0;top:587px;width:634px"></div><div class="hl" style="left:0;top:611px;width:634px"></div><div class="hl" style="left:0;top:648px;width:634px"></div><div class="hl" style="left:0;top:815px;width:634px"></div>
<span class="t" style="top:145.20px;line-height:20px;font-size:11.2px;color:#111;right:565px;">1</span><span class="t" style="top:145.20px;line-height:20px;font-size:11.2px;color:#111;left:107px;">8/10/2025</span><span class="t" style="top:145.20px;line-height:20px;font-size:11.0px;color:#111;left:189.2px;">Planned</span><span class="t" style="top:145.20px;line-height:20px;font-size:11.2px;color:#111;right:146px;">1</span><span class="t" style="top:145.20px;line-height:20px;font-size:11.0px;color:#111;left:504.20000000000005px;">Asim</span><span class="t" style="top:145.20px;line-height:20px;font-size:11.0px;color:#111;left:586.2px;">Rayyan</span>
<span class="t" style="top:188.70px;line-height:20px;font-size:11.2px;color:#111;right:565px;">2</span><span class="t" style="top:188.70px;line-height:20px;font-size:11.2px;color:#111;left:107px;">8/10/2025</span><span class="t" style="top:188.70px;line-height:20px;font-size:11.0px;color:#111;left:189.2px;">Ongoing</span><span class="t" style="left:271.20000000000005px;top:172.0px;font-size:11px;line-height:13px;color:#111">Skin remains
intact, no
breakdown
noted</span>
<span class="t" style="top:232.20px;line-height:20px;font-size:11.2px;color:#111;right:565px;">8</span><span class="t" style="top:232.20px;line-height:20px;font-size:11.2px;color:#111;left:107px;">8/11/2025</span><span class="t" style="top:232.20px;line-height:20px;font-size:11.0px;color:#111;left:189.2px;">Planned</span><span class="t" style="top:232.20px;line-height:20px;font-size:11.2px;color:#111;right:146px;">99</span><span class="t" style="top:232.20px;line-height:20px;font-size:11.0px;color:#111;left:504.20000000000005px;">Usman</span><span class="t" style="top:232.20px;line-height:20px;font-size:11.0px;color:#111;left:586.2px;">khan</span>
<span class="t" style="top:256.20px;line-height:20px;font-size:11.2px;color:#111;right:565px;">10</span><span class="t" style="top:256.20px;line-height:20px;font-size:11.2px;color:#111;left:107px;">8/11/2025</span><span class="t" style="top:256.20px;line-height:20px;font-size:11.0px;color:#111;left:189.2px;">Planned</span><span class="t" style="top:256.20px;line-height:20px;font-size:11.2px;color:#111;right:146px;">99</span><span class="t" style="top:256.20px;line-height:20px;font-size:11.0px;color:#111;left:504.20000000000005px;">Usman</span><span class="t" style="top:256.20px;line-height:20px;font-size:11.0px;color:#111;left:586.2px;">khan</span>
<span class="t" style="top:280.20px;line-height:20px;font-size:11.2px;color:#111;right:565px;">18</span><span class="t" style="top:280.20px;line-height:20px;font-size:11.2px;color:#111;left:107px;">8/14/2025</span><span class="t" style="top:280.20px;line-height:20px;font-size:11.0px;color:#111;left:189.2px;">Draft</span><span class="t" style="top:280.20px;line-height:20px;font-size:11.2px;color:#111;right:146px;">147</span><span class="t" style="top:280.20px;line-height:20px;font-size:11.0px;color:#111;left:504.20000000000005px;">Nawab</span><span class="t" style="top:280.20px;line-height:20px;font-size:11.0px;color:#111;left:586.2px;">Ahmed</span>
<span class="t" style="top:304.20px;line-height:20px;font-size:11.2px;color:#111;right:565px;">19</span><span class="t" style="top:304.20px;line-height:20px;font-size:11.2px;color:#111;left:107px;">8/14/2025</span><span class="t" style="top:304.20px;line-height:20px;font-size:11.0px;color:#111;left:189.2px;">Draft</span><span class="t" style="top:304.20px;line-height:20px;font-size:11.2px;color:#111;right:146px;">165</span><span class="t" style="top:304.20px;line-height:20px;font-size:11.0px;color:#111;left:504.20000000000005px;">Salman</span><span class="t" style="top:304.20px;line-height:20px;font-size:11.0px;color:#111;left:586.2px;">R</span>
<span class="t" style="top:399.70px;line-height:20px;font-size:11.2px;color:#111;right:565px;">20</span><span class="t" style="top:399.70px;line-height:20px;font-size:11.2px;color:#111;left:107px;">8/14/2025</span><span class="t" style="top:399.70px;line-height:20px;font-size:11.0px;color:#111;left:189.2px;">Draft</span><span class="t" style="left:271.20000000000005px;top:331.0px;font-size:11px;line-height:13px;color:#111">&lt;div&gt;&lt;br&gt;
&lt;/div&gt;
&lt;div&gt;Patient
demonstrat...
partial
understand...
of insulin
administrat...
reinforcem...
needed&lt;/d...
&lt;div&gt;&lt;br&gt;
&lt;/div&gt;</span><span class="t" style="top:399.70px;line-height:20px;font-size:11.2px;color:#111;left:353.20000000000005px;">8/16/2025</span><span class="t" style="top:399.70px;line-height:20px;font-size:11.2px;color:#111;right:146px;">163</span><span class="t" style="top:399.70px;line-height:20px;font-size:11.0px;color:#111;left:504.20000000000005px;">Rauf</span><span class="t" style="top:399.70px;line-height:20px;font-size:11.0px;color:#111;left:586.2px;">Ahmed</span>
<span class="t" style="top:495.20px;line-height:20px;font-size:11.2px;color:#111;right:565px;">21</span><span class="t" style="top:495.20px;line-height:20px;font-size:11.2px;color:#111;left:107px;">8/19/2025</span><span class="t" style="top:495.20px;line-height:20px;font-size:11.0px;color:#111;left:189.2px;">Draft</span><span class="t" style="top:495.20px;line-height:20px;font-size:11.0px;color:#111;left:271.20000000000005px;">Notes</span><span class="t" style="top:495.20px;line-height:20px;font-size:11.2px;color:#111;right:146px;">229</span><span class="t" style="top:495.20px;line-height:20px;font-size:11.0px;color:#111;left:504.20000000000005px;">Murtuza</span><span class="t" style="top:495.20px;line-height:20px;font-size:11.0px;color:#111;left:586.2px;">Murtuza</span>
<span class="t" style="top:519.20px;line-height:20px;font-size:11.2px;color:#111;right:565px;">22</span><span class="t" style="top:519.20px;line-height:20px;font-size:11.2px;color:#111;left:107px;">8/21/2025</span><span class="t" style="top:519.20px;line-height:20px;font-size:11.0px;color:#111;left:189.2px;">Draft</span><span class="t" style="top:519.20px;line-height:20px;font-size:11.2px;color:#111;right:146px;">237</span><span class="t" style="top:519.20px;line-height:20px;font-size:11.0px;color:#111;left:504.20000000000005px;">Zubair</span><span class="t" style="top:519.20px;line-height:20px;font-size:11.0px;color:#111;left:586.2px;">R</span>
<span class="t" style="top:543.20px;line-height:20px;font-size:11.2px;color:#111;right:565px;">23</span><span class="t" style="top:543.20px;line-height:20px;font-size:11.2px;color:#111;left:107px;">9/13/2025</span><span class="t" style="top:543.20px;line-height:20px;font-size:11.0px;color:#111;left:189.2px;">Draft</span><span class="t" style="top:543.20px;line-height:20px;font-size:11.2px;color:#111;right:146px;">556</span><span class="t" style="top:543.20px;line-height:20px;font-size:11.0px;color:#111;left:504.20000000000005px;">Shaik</span><span class="t" style="top:543.20px;line-height:20px;font-size:11.0px;color:#111;left:586.2px;">Afzal</span>
<span class="t" style="top:567.20px;line-height:20px;font-size:11.2px;color:#111;right:565px;">24</span><span class="t" style="top:567.20px;line-height:20px;font-size:11.2px;color:#111;left:107px;">11/4/2025</span><span class="t" style="top:567.20px;line-height:20px;font-size:11.0px;color:#111;left:189.2px;">Draft</span><span class="t" style="top:567.20px;line-height:20px;font-size:11.0px;color:#111;left:271.20000000000005px;">adas</span><span class="t" style="top:567.20px;line-height:20px;font-size:11.2px;color:#111;left:353.20000000000005px;">11/4/2025</span><span class="t" style="top:567.20px;line-height:20px;font-size:11.2px;color:#111;right:146px;">361</span><span class="t" style="top:567.20px;line-height:20px;font-size:11.0px;color:#111;left:504.20000000000005px;">manju</span><span class="t" style="top:567.20px;line-height:20px;font-size:11.0px;color:#111;left:586.2px;">manju</span>
<span class="t" style="top:591.20px;line-height:20px;font-size:11.2px;color:#111;right:565px;">25</span><span class="t" style="top:591.20px;line-height:20px;font-size:11.2px;color:#111;left:107px;">11/9/2025</span><span class="t" style="top:591.20px;line-height:20px;font-size:11.0px;color:#111;left:189.2px;">Draft</span><span class="t" style="top:591.20px;line-height:20px;font-size:11.2px;color:#111;right:146px;">403</span><span class="t" style="top:591.20px;line-height:20px;font-size:11.0px;color:#111;left:504.20000000000005px;">Imran</span><span class="t" style="top:591.20px;line-height:20px;font-size:11.0px;color:#111;left:586.2px;">Abdula</span>
<span class="t" style="top:621.70px;line-height:20px;font-size:11.2px;color:#111;right:565px;">26</span><span class="t" style="top:621.70px;line-height:20px;font-size:11.2px;color:#111;left:107px;">11/9/2025</span><span class="t" style="top:621.70px;line-height:20px;font-size:11.0px;color:#111;left:189.2px;">Planned</span><span class="t" style="top:621.70px;line-height:20px;font-size:11.2px;color:#111;left:353.20000000000005px;">11/9/2025</span><span class="t" style="top:621.70px;line-height:20px;font-size:11.2px;color:#111;right:146px;">375</span><span class="t" style="top:621.70px;line-height:20px;font-size:11.0px;color:#111;left:504.20000000000005px;">Amer</span><span class="t" style="top:621.70px;line-height:20px;font-size:11.0px;color:#111;left:586.2px;">Ahmed</span>
<span class="t" style="top:723.70px;line-height:20px;font-size:11.2px;color:#111;right:565px;">27</span><span class="t" style="top:723.70px;line-height:20px;font-size:11.2px;color:#111;left:107px;">12/9/2025</span><span class="t" style="top:723.70px;line-height:20px;font-size:11.0px;color:#111;left:189.2px;">Draft</span><span class="t" style="top:723.70px;line-height:20px;font-size:11.2px;color:#111;right:146px;">663</span><span class="t" style="top:723.70px;line-height:20px;font-size:11.0px;color:#111;left:504.20000000000005px;">Shaik</span><span class="t" style="top:723.70px;line-height:20px;font-size:11.0px;color:#111;left:586.2px;">Aftab</span>
<svg class="i" style="left:71px;top:192.100px;width:20px;height:10px" viewBox="0 0 20 10"><circle cx="3.800" cy="5" r="2"/><circle cx="10" cy="5" r="2"/><circle cx="16.200" cy="5" r="2"/></svg><div class="a" style="left:0;top:1073px;width:634px;height:7px;background:#e8e8e8"></div><div class="a" style="left:0;top:1073px;width:255px;height:7px;background:#a9a9a9"></div><div class="vl" style="left:633px;top:57px;height:1023px;background:#c4c4c4"></div></div>
<div id="right" class="a">
<div class="a" style="left:0;top:0;width:1026px;height:57px;background:#0072c6"></div><svg class="i" style="left:16px;top:16px;width:24px;height:24px;fill:#fff;" viewBox="0 0 24 24"><path d="M19 6.41L17.59 5 12 10.59 6.41 5 5 6.41 10.59 12 5 17.59 6.41 19 12 13.41 17.59 19 19 17.59 13.41 12z"/></svg><svg class="i" style="left:742.5999999999999px;top:17.6px;width:22.8px;height:22.8px;fill:#fff;" viewBox="0 0 20 20"><g transform="rotate(45 10 10)"><path d="M7.200 1.300a1.600 1.600 0 0 1 1.600-1.600h2.400a1.600 1.600 0 0 1 1.600 1.600V17.500L10 20.300 7.200 17.500z"/><circle cx="10" cy="1.700" r=".8" fill="#0072c6"/></g></svg><span class="t" style="top:19.00px;line-height:20px;font-size:11.65px;color:#fff;left:770.9000000000001px;letter-spacing:.6px;">EDIT</span><span class="t" style="top:19.00px;line-height:20px;font-size:11.65px;color:#fff;left:848.3px;">DELETE</span><svg class="i" style="left:910.3px;top:15.3px;width:24.5px;height:24.5px;fill:#fff;" viewBox="0 -960 960 960"><path d="M280-200v-80h284q63 0 109.500-40T720-420q0-60-46.500-100T564-560H312l104 104-56 56-200-200 200-200 56 56-104 104h252q97 0 166.500 63T800-420q0 94-69.500 157T564-200H280Z"/></svg><span class="t" style="top:19.00px;line-height:20px;font-size:11.65px;color:#fff;left:938.7px;">CLOSE</span><svg class="i" style="left:989.3px;top:16px;width:24px;height:24px;fill:#fff;" viewBox="0 0 24 24"><path d="M6 10c-1.1 0-2 .9-2 2s.9 2 2 2 2-.9 2-2-.9-2-2-2zm12 0c-1.1 0-2 .9-2 2s.9 2 2 2 2-.9 2-2-.9-2-2-2zm-6 0c-1.1 0-2 .9-2 2s.9 2 2 2 2-.9 2-2-.9-2-2-2z"/></svg>
<div class="hl" style="left:0;top:88px;width:1018px"></div><div class="hl" style="left:0;top:116px;width:1018px"></div><div class="hl" style="left:0;top:144px;width:1018px"></div><div class="hl" style="left:0;top:185px;width:1018px"></div><div class="hl" style="left:0;top:213px;width:1018px"></div><div class="hl" style="left:0;top:241px;width:1018px"></div><div class="hl" style="left:0;top:270px;width:1018px"></div><span class="t" style="top:66.00px;line-height:20px;font-size:10.9px;color:#161616;right:880.7px;">Careplanid</span><span class="t" style="top:94.00px;line-height:20px;font-size:10.9px;color:#161616;right:880.7px;">Careplandate</span><span class="t" style="top:122.00px;line-height:20px;font-size:10.9px;color:#161616;right:880.7px;">Careplanstatus</span><span class="t" style="top:150.00px;line-height:20px;font-size:10.9px;color:#161616;right:880.7px;">Evaluationnotes</span><span class="t" style="top:191.00px;line-height:20px;font-size:10.9px;color:#161616;right:880.7px;">Completeddate</span><span class="t" style="top:219.00px;line-height:20px;font-size:10.9px;color:#161616;right:880.7px;">Patientid</span><span class="t" style="top:247.00px;line-height:20px;font-size:10.9px;color:#161616;right:880.7px;">Patientfirstname</span>
<span class="t" style="top:66.00px;line-height:20px;font-size:10.9px;color:#161616;right:580.7px;">Patientlastname</span><span class="t" style="top:94.00px;line-height:20px;font-size:10.9px;color:#161616;right:580.7px;">Patientdob</span><span class="t" style="top:122.00px;line-height:20px;font-size:10.9px;color:#161616;right:580.7px;">Gender</span><span class="t" style="top:150.00px;line-height:20px;font-size:10.9px;color:#161616;right:580.7px;">Patient Phone</span><span class="t" style="top:191.00px;line-height:20px;font-size:10.9px;color:#161616;right:580.7px;">Encounterid</span><span class="t" style="top:219.00px;line-height:20px;font-size:10.9px;color:#161616;right:580.7px;">Encounterclass</span><span class="t" style="top:247.00px;line-height:20px;font-size:10.9px;color:#161616;right:580.7px;">Chiefcomplaints</span>
<span class="t" style="top:66.00px;line-height:20px;font-size:10.9px;color:#161616;right:280.70000000000005px;">Diagnosiscode</span><span class="t" style="top:94.00px;line-height:20px;font-size:10.9px;color:#161616;right:280.70000000000005px;">Treatmentplan</span><span class="t" style="top:122.00px;line-height:20px;font-size:10.9px;color:#161616;right:280.70000000000005px;">Encounterstart</span><span class="t" style="top:150.00px;line-height:20px;font-size:10.9px;color:#161616;right:280.70000000000005px;">Encounterend</span><span class="t" style="top:191.00px;line-height:20px;font-size:10.9px;color:#161616;right:280.70000000000005px;">Encounterstatus</span>
<span class="t" style="top:66.00px;line-height:20px;font-size:10.9px;color:#777;left:171.29999999999995px;">2</span><span class="t" style="top:94.00px;line-height:20px;font-size:11.1px;color:#777;left:171.29999999999995px;">8/10/2025</span><span class="t" style="top:122.00px;line-height:20px;font-size:10.9px;color:#777;left:171.29999999999995px;">Ongoing</span><span class="t" style="left:171.29999999999995px;top:152.5px;font-size:10.9px;line-height:13px;color:#777">Skin remains intact, no
breakdown noted</span>
<div class="a" style="left:0;top:282px;width:1018px;height:36px;background:#f1f1f1;border-top:1px solid #ddd;border-bottom:1px solid #d6d6d6"></div><span class="t" style="top:291.00px;line-height:20px;font-size:11.8px;color:#161616;left:16px;">PROBLEMS</span><svg class="i" style="left:988.5999999999999px;top:287.7px;width:24px;height:24px;fill:#9a9a9a;" viewBox="0 0 24 24"><path d="M12 8l-6 6 1.41 1.41L12 10.83l4.59 4.58L18 14z"/></svg><span class="t" style="top:334.00px;line-height:20px;font-size:11.3px;color:#161616;left:14.799999999999955px;">A 3NURSINGCAREPROBLEM (13)</span><div class="a" style="left:183.5px;top:340.0px;border-left:5px solid transparent;border-right:5px solid transparent;border-top:5.500px solid #777"></div><svg class="i" style="left:202.5px;top:330.5px;width:24px;height:24px;fill:#6a6a6a;" viewBox="0 0 24 24"><path d="M6 10c-1.1 0-2 .9-2 2s.9 2 2 2 2-.9 2-2-.9-2-2-2zm12 0c-1.1 0-2 .9-2 2s.9 2 2 2 2-.9 2-2-.9-2-2-2zm-6 0c-1.1 0-2 .9-2 2s.9 2 2 2 2-.9 2-2-.9-2-2-2z"/></svg><svg class="i" style="left:234.5px;top:330.5px;width:24px;height:24px;fill:#666;" viewBox="0 0 24 24"><path d="M15.5 14h-.79l-.28-.27C15.41 12.59 16 11.11 16 9.5 16 5.91 13.09 3 9.5 3S3 5.91 3 9.5 5.91 16 9.5 16c1.61 0 3.09-.59 4.23-1.57l.27.28v.79l5 4.99L20.49 19l-4.99-5zm-6 0C7.01 14 5 11.99 5 9.5S7.01 5 9.5 5 14 7.01 14 9.5 11.99 14 9.5 14z"/></svg><svg class="i" style="left:281px;top:335.500px;width:14.400px;height:14.400px" viewBox="0 0 14.400 14.400"><path d="M0 7.200h14.400M7.200 0v14.400" stroke="#666" stroke-width="1.900" fill="none"/></svg><span class="t" style="top:334.00px;line-height:20px;font-size:11.3px;color:#161616;left:304.5999999999999px;">NEW</span><span class="t" style="top:334.00px;line-height:20px;font-size:11.3px;color:#161616;left:351px;">ACTIONS</span><div class="a" style="left:401.0px;top:340.0px;border-left:5px solid transparent;border-right:5px solid transparent;border-top:5.500px solid #777"></div><span class="t" style="top:334.00px;line-height:20px;font-size:11.3px;color:#161616;left:432.5px;">REPORT</span><div class="a" style="left:477.0px;top:340.0px;border-left:5px solid transparent;border-right:5px solid transparent;border-top:5.500px solid #777"></div><span class="t" style="top:332.50px;line-height:20px;font-size:10.9px;color:#161616;left:955px;">See All</span><svg class="i" style="left:986px;top:332.5px;width:20px;height:20px;fill:#444;" viewBox="0 0 24 24"><path d="M10 6L8.59 7.41 13.17 12l-4.58 4.59L10 18l6-6z"/></svg>
<div class="col" style="left:16px;width:231px;height:606px"><div class="card" style="left:16px;top:10px;width:201px;height:150px;border-left-color:#f59e0b"><div class="cb"><span class="t" style="top:2px;line-height:20px;font-size:11.2px;color:#8a8a8a;right:3.5px;">1/10/2025</span><span class="bdg" style="top:15px;left:14px;width:58px;background:#e9faf4;color:#10b981;padding-left:19.700px"><svg class="i" style="left:9.400px;top:5.500px;width:9px;height:9px" viewBox="0 0 9 9"><path d="M1.200 5.200 3.300 7.600 7.800 1.300" fill="none" stroke="#10b981" stroke-width="1.500"/></svg>Active</span><span class="bdg" style="top:15px;right:14px;width:108px;background:#fff5e8;color:#f59e0b;padding-left:24.5px">Medium Priority</span><svg class="i" style="left:84.0px;top:20.5px;width:9px;height:9px" viewBox="0 0 10 10"><circle cx="5" cy="5" r="4.800" fill="#f4a23a"/><circle cx="3.800" cy="3.600" r="1.800" fill="#ffc46b"/></svg><div class="hl" style="left:14px;top:43px;width:167px;background:#e9e9e9"></div><span class="t" style="top:53px;line-height:20px;font-size:11.7px;color:#1a202c;font-weight:700;left:14px;">1</span><span class="tag" style="top:78px">1</span><svg class="i" style="left:16.7px;top:105.9px;width:7.200px;height:8.800px" viewBox="0 0 8 10" preserveAspectRatio="none"><circle cx="4" cy="2.600" r="2.300" fill="#f2b134"/><path d="M.8 10c0-3 1.200-4.600 3.200-4.600S7.200 7 7.200 10z" fill="#8d97b5"/><rect x="3.300" y="6" width="1.400" height="4" fill="#3b5aa8"/></svg><span class="t" style="top:101px;line-height:20px;font-size:9.75px;color:#8794aa;font-family:'Liberation Sans','DejaVu Sans Condensed',sans-serif;left:30.2px;-webkit-text-stroke:.1px currentColor;">Nurse:</span><span class="t" style="top:101px;line-height:20px;font-size:9.55px;color:#2d3748;font-weight:700;left:64.8px;">1</span><svg class="i" style="left:16px;top:126px;width:8.900px;height:9.100px" viewBox="0 0 10 10" preserveAspectRatio="none"><rect x=".3" y=".8" width="9.400" height="9" rx=".8" fill="#e8e4f3"/><rect x=".3" y=".8" width="9.400" height="3" fill="#3b82d6"/><g fill="#9a8fc4"><rect x="1.500" y="4.800" width="1.600" height="1.600"/><rect x="4.200" y="4.800" width="1.600" height="1.600"/><rect x="6.900" y="4.800" width="1.600" height="1.600"/><rect x="1.500" y="7.300" width="1.600" height="1.600"/><rect x="4.200" y="7.300" width="1.600" height="1.600"/><rect x="6.900" y="7.300" width="1.600" height="1.600"/></g></svg><span class="t" style="top:121px;line-height:20px;font-size:9.75px;color:#8794aa;font-family:'Liberation Sans','DejaVu Sans Condensed',sans-serif;left:30.2px;-webkit-text-stroke:.1px currentColor;">Target Date:</span><span class="t" style="top:121px;line-height:20px;font-size:10.7px;color:#dc2626;font-weight:700;left:89.19999999999999px;">1/10/2025</span></div></div>
<div class="hl" style="left:0;top:171px;width:231px;background:#dcdcdc"></div><div class="card" style="left:16px;top:182px;width:201px;height:107px;border-left-color:#f59e0b"><div class="cb"><span class="t" style="top:1px;line-height:20px;font-size:11.2px;color:#8a8a8a;right:3.5px;">N/A</span><span class="bdg" style="top:15px;left:14px;width:58px;background:#e9faf4;color:#10b981;padding-left:19.700px"><svg class="i" style="left:9.400px;top:5.500px;width:9px;height:9px" viewBox="0 0 9 9"><path d="M1.200 5.200 3.300 7.600 7.800 1.300" fill="none" stroke="#10b981" stroke-width="1.500"/></svg>Active</span><span class="bdg" style="top:15px;right:14px;width:108px;background:#fff5e8;color:#f59e0b;padding-left:24.5px">Medium Priority</span><svg class="i" style="left:84.0px;top:20.5px;width:9px;height:9px" viewBox="0 0 10 10"><circle cx="5" cy="5" r="4.800" fill="#f4a23a"/><circle cx="3.800" cy="3.600" r="1.800" fill="#ffc46b"/></svg><div class="hl" style="left:14px;top:43px;width:167px;background:#e9e9e9"></div><span class="t" style="top:53px;line-height:20px;font-size:11.7px;color:#1a202c;font-weight:700;left:14px;">skin</span><svg class="i" style="left:16px;top:84px;width:8.900px;height:9.100px" viewBox="0 0 10 10" preserveAspectRatio="none"><rect x=".3" y=".8" width="9.400" height="9" rx=".8" fill="#e8e4f3"/><rect x=".3" y=".8" width="9.400" height="3" fill="#3b82d6"/><g fill="#9a8fc4"><rect x="1.500" y="4.800" width="1.600" height="1.600"/><rect x="4.200" y="4.800" width="1.600" height="1.600"/><rect x="6.900" y="4.800" width="1.600" height="1.600"/><rect x="1.500" y="7.300" width="1.600" height="1.600"/><rect x="4.200" y="7.300" width="1.600" height="1.600"/><rect x="6.900" y="7.300" width="1.600" height="1.600"/></g></svg><span class="t" style="top:79px;line-height:20px;font-size:9.75px;color:#8794aa;font-family:'Liberation Sans','DejaVu Sans Condensed',sans-serif;left:30.2px;-webkit-text-stroke:.1px currentColor;">Target Date:</span><span class="t" style="top:79px;line-height:20px;font-size:9.55px;color:#2d3748;font-weight:700;left:89.19999999999999px;">-</span></div></div>
<div class="hl" style="left:0;top:301px;width:231px;background:#dcdcdc"></div><div class="card" style="left:16px;top:313px;width:201px;height:107px;border-left-color:#f59e0b"><div class="cb"><span class="t" style="top:1px;line-height:20px;font-size:11.2px;color:#8a8a8a;right:3.5px;">N/A</span><span class="bdg" style="top:14px;left:14px;width:58px;background:#e9faf4;color:#10b981;padding-left:19.700px"><svg class="i" style="left:9.400px;top:5.500px;width:9px;height:9px" viewBox="0 0 9 9"><path d="M1.200 5.200 3.300 7.600 7.800 1.300" fill="none" stroke="#10b981" stroke-width="1.500"/></svg>Active</span><span class="bdg" style="top:14px;right:14px;width:108px;background:#fff5e8;color:#f59e0b;padding-left:24.5px">Medium Priority</span><svg class="i" style="left:84.0px;top:19.5px;width:9px;height:9px" viewBox="0 0 10 10"><circle cx="5" cy="5" r="4.800" fill="#f4a23a"/><circle cx="3.800" cy="3.600" r="1.800" fill="#ffc46b"/></svg><div class="hl" style="left:14px;top:42px;width:167px;background:#e9e9e9"></div><span class="t" style="top:52px;line-height:20px;font-size:11.7px;color:#1a202c;font-weight:700;left:14px;">ttttt</span><svg class="i" style="left:16px;top:83px;width:8.900px;height:9.100px" viewBox="0 0 10 10" preserveAspectRatio="none"><rect x=".3" y=".8" width="9.400" height="9" rx=".8" fill="#e8e4f3"/><rect x=".3" y=".8" width="9.400" height="3" fill="#3b82d6"/><g fill="#9a8fc4"><rect x="1.500" y="4.800" width="1.600" height="1.600"/><rect x="4.200" y="4.800" width="1.600" height="1.600"/><rect x="6.900" y="4.800" width="1.600" height="1.600"/><rect x="1.500" y="7.300" width="1.600" height="1.600"/><rect x="4.200" y="7.300" width="1.600" height="1.600"/><rect x="6.900" y="7.300" width="1.600" height="1.600"/></g></svg><span class="t" style="top:78px;line-height:20px;font-size:9.75px;color:#8794aa;font-family:'Liberation Sans','DejaVu Sans Condensed',sans-serif;left:30.2px;-webkit-text-stroke:.1px currentColor;">Target Date:</span><span class="t" style="top:78px;line-height:20px;font-size:9.55px;color:#2d3748;font-weight:700;left:89.19999999999999px;">-</span></div></div>
<div class="hl" style="left:0;top:432px;width:231px;background:#dcdcdc"></div><div class="card" style="left:16px;top:443px;width:201px;height:150px;border-left-color:#f59e0b"><div class="cb"><span class="t" style="top:1px;line-height:20px;font-size:11.2px;color:#8a8a8a;right:3.5px;">N/A</span><span class="bdg" style="top:15px;left:14px;width:58px;background:#e9faf4;color:#10b981;padding-left:19.700px"><svg class="i" style="left:9.400px;top:5.500px;width:9px;height:9px" viewBox="0 0 9 9"><path d="M1.200 5.200 3.300 7.600 7.800 1.300" fill="none" stroke="#10b981" stroke-width="1.500"/></svg>Active</span><span class="bdg" style="top:15px;right:14px;width:108px;background:#fff5e8;color:#f59e0b;padding-left:24.5px">Medium Priority</span><svg class="i" style="left:84.0px;top:20.5px;width:9px;height:9px" viewBox="0 0 10 10"><circle cx="5" cy="5" r="4.800" fill="#f4a23a"/><circle cx="3.800" cy="3.600" r="1.800" fill="#ffc46b"/></svg><div class="hl" style="left:14px;top:43px;width:167px;background:#e9e9e9"></div><span class="t" style="top:53px;line-height:20px;font-size:11.7px;color:#1a202c;font-weight:700;left:14px;">Details regarding Mobility</span><span class="tag" style="top:78px">Mobility &amp; Physical Function</span><svg class="i" style="left:16.7px;top:105.9px;width:7.400px;height:8.800px" viewBox="0 0 8 10" preserveAspectRatio="none"><rect x=".5" y="1" width="7" height="8.700" rx=".8" fill="#c98f6a"/><rect x="1.300" y="2" width="5.400" height="7" fill="#f3f0f5"/><rect x="2.500" y="0" width="3" height="2" rx=".5" fill="#9aa0a8"/><rect x="2" y="3.500" width="4" height=".8" fill="#b9a3c9"/><rect x="2" y="5.200" width="4" height=".8" fill="#b9a3c9"/><rect x="2" y="6.900" width="3" height=".8" fill="#b9a3c9"/></svg><span class="t" style="top:101px;line-height:20px;font-size:9.75px;color:#8794aa;font-family:'Liberation Sans','DejaVu Sans Condensed',sans-serif;left:30.2px;-webkit-text-stroke:.1px currentColor;">Domain:</span><span class="t" style="top:101px;line-height:20px;font-size:9.55px;color:#2d3748;font-weight:700;left:72.0px;">Physician</span><svg class="i" style="left:16px;top:126px;width:8.900px;height:9.100px" viewBox="0 0 10 10" preserveAspectRatio="none"><rect x=".3" y=".8" width="9.400" height="9" rx=".8" fill="#e8e4f3"/><rect x=".3" y=".8" width="9.400" height="3" fill="#3b82d6"/><g fill="#9a8fc4"><rect x="1.500" y="4.800" width="1.600" height="1.600"/><rect x="4.200" y="4.800" width="1.600" height="1.600"/><rect x="6.900" y="4.800" width="1.600" height="1.600"/><rect x="1.500" y="7.300" width="1.600" height="1.600"/><rect x="4.200" y="7.300" width="1.600" height="1.600"/><rect x="6.900" y="7.300" width="1.600" height="1.600"/></g></svg><span class="t" style="top:121px;line-height:20px;font-size:9.75px;color:#8794aa;font-family:'Liberation Sans','DejaVu Sans Condensed',sans-serif;left:30.2px;-webkit-text-stroke:.1px currentColor;">Target Date:</span><span class="t" style="top:121px;line-height:20px;font-size:9.55px;color:#2d3748;font-weight:700;left:89.19999999999999px;">-</span></div></div>
</div>
<div class="col" style="left:258px;width:231px;height:688px"><div class="card" style="left:16px;top:10px;width:202px;height:150px;border-left-color:#f59e0b"><div class="cb"><span class="t" style="top:2px;line-height:20px;font-size:11.2px;color:#8a8a8a;right:3.5px;">8/27/2025</span><span class="bdg" style="top:15px;left:14px;width:58px;background:#e9faf4;color:#10b981;padding-left:19.700px"><svg class="i" style="left:9.400px;top:5.500px;width:9px;height:9px" viewBox="0 0 9 9"><path d="M1.200 5.200 3.300 7.600 7.800 1.300" fill="none" stroke="#10b981" stroke-width="1.500"/></svg>Active</span><span class="bdg" style="top:15px;right:14px;width:109px;background:#fff5e8;color:#f59e0b;padding-left:24.3px">Medium Priority</span><svg class="i" style="left:83.8px;top:20.5px;width:9px;height:9px" viewBox="0 0 10 10"><circle cx="5" cy="5" r="4.800" fill="#f4a23a"/><circle cx="3.800" cy="3.600" r="1.800" fill="#ffc46b"/></svg><div class="hl" style="left:14px;top:43px;width:168px;background:#e9e9e9"></div><span class="t" style="top:53px;line-height:20px;font-size:11.7px;color:#1a202c;font-weight:700;left:14px;">limitation in independent, purposeful movement</span><span class="tag" style="top:78px">Mobility &amp; Physical Function</span><svg class="i" style="left:16.7px;top:105.9px;width:7.400px;height:8.800px" viewBox="0 0 8 10" preserveAspectRatio="none"><rect x=".5" y="1" width="7" height="8.700" rx=".8" fill="#c98f6a"/><rect x="1.300" y="2" width="5.400" height="7" fill="#f3f0f5"/><rect x="2.500" y="0" width="3" height="2" rx=".5" fill="#9aa0a8"/><rect x="2" y="3.500" width="4" height=".8" fill="#b9a3c9"/><rect x="2" y="5.200" width="4" height=".8" fill="#b9a3c9"/><rect x="2" y="6.900" width="3" height=".8" fill="#b9a3c9"/></svg><span class="t" style="top:101px;line-height:20px;font-size:9.75px;color:#8794aa;font-family:'Liberation Sans','DejaVu Sans Condensed',sans-serif;left:30.2px;-webkit-text-stroke:.1px currentColor;">Domain:</span><span class="t" style="top:101px;line-height:20px;font-size:9.55px;color:#2d3748;font-weight:700;left:72.0px;">Physician</span><svg class="i" style="left:16px;top:126px;width:8.900px;height:9.100px" viewBox="0 0 10 10" preserveAspectRatio="none"><rect x=".3" y=".8" width="9.400" height="9" rx=".8" fill="#e8e4f3"/><rect x=".3" y=".8" width="9.400" height="3" fill="#3b82d6"/><g fill="#9a8fc4"><rect x="1.500" y="4.800" width="1.600" height="1.600"/><rect x="4.200" y="4.800" width="1.600" height="1.600"/><rect x="6.900" y="4.800" width="1.600" height="1.600"/><rect x="1.500" y="7.300" width="1.600" height="1.600"/><rect x="4.200" y="7.300" width="1.600" height="1.600"/><rect x="6.900" y="7.300" width="1.600" height="1.600"/></g></svg><span class="t" style="top:121px;line-height:20px;font-size:9.75px;color:#8794aa;font-family:'Liberation Sans','DejaVu Sans Condensed',sans-serif;left:30.2px;-webkit-text-stroke:.1px currentColor;">Target Date:</span><span class="t" style="top:121px;line-height:20px;font-size:10.7px;color:#dc2626;font-weight:700;left:89.19999999999999px;">8/27/2025</span></div></div>
<div class="hl" style="left:0;top:171px;width:231px;background:#dcdcdc"></div><div class="card" style="left:16px;top:182px;width:202px;height:149px;border-left-color:#f59e0b"><div class="cb"><span class="t" style="top:1px;line-height:20px;font-size:11.2px;color:#8a8a8a;right:3.5px;">8/28/2025</span><span class="bdg" style="top:15px;left:14px;width:58px;background:#e9faf4;color:#10b981;padding-left:19.700px"><svg class="i" style="left:9.400px;top:5.500px;width:9px;height:9px" viewBox="0 0 9 9"><path d="M1.200 5.200 3.300 7.600 7.800 1.300" fill="none" stroke="#10b981" stroke-width="1.500"/></svg>Active</span><span class="bdg" style="top:15px;right:14px;width:109px;background:#fff5e8;color:#f59e0b;padding-left:24.3px">Medium Priority</span><svg class="i" style="left:83.8px;top:20.5px;width:9px;height:9px" viewBox="0 0 10 10"><circle cx="5" cy="5" r="4.800" fill="#f4a23a"/><circle cx="3.800" cy="3.600" r="1.800" fill="#ffc46b"/></svg><div class="hl" style="left:14px;top:43px;width:168px;background:#e9e9e9"></div><span class="t" style="top:53px;line-height:20px;font-size:11.7px;color:#1a202c;font-weight:700;left:14px;">Impaired Verbal Communication</span><span class="tag" style="top:77px">Communication</span><svg class="i" style="left:16.7px;top:104.9px;width:7.400px;height:8.800px" viewBox="0 0 8 10" preserveAspectRatio="none"><rect x=".5" y="1" width="7" height="8.700" rx=".8" fill="#c98f6a"/><rect x="1.300" y="2" width="5.400" height="7" fill="#f3f0f5"/><rect x="2.500" y="0" width="3" height="2" rx=".5" fill="#9aa0a8"/><rect x="2" y="3.500" width="4" height=".8" fill="#b9a3c9"/><rect x="2" y="5.200" width="4" height=".8" fill="#b9a3c9"/><rect x="2" y="6.900" width="3" height=".8" fill="#b9a3c9"/></svg><span class="t" style="top:100px;line-height:20px;font-size:9.75px;color:#8794aa;font-family:'Liberation Sans','DejaVu Sans Condensed',sans-serif;left:30.2px;-webkit-text-stroke:.1px currentColor;">Domain:</span><span class="t" style="top:100px;line-height:20px;font-size:9.55px;color:#2d3748;font-weight:700;left:72.0px;">Speech Language Therapy</span><svg class="i" style="left:16px;top:125px;width:8.900px;height:9.100px" viewBox="0 0 10 10" preserveAspectRatio="none"><rect x=".3" y=".8" width="9.400" height="9" rx=".8" fill="#e8e4f3"/><rect x=".3" y=".8" width="9.400" height="3" fill="#3b82d6"/><g fill="#9a8fc4"><rect x="1.500" y="4.800" width="1.600" height="1.600"/><rect x="4.200" y="4.800" width="1.600" height="1.600"/><rect x="6.900" y="4.800" width="1.600" height="1.600"/><rect x="1.500" y="7.300" width="1.600" height="1.600"/><rect x="4.200" y="7.300" width="1.600" height="1.600"/><rect x="6.900" y="7.300" width="1.600" height="1.600"/></g></svg><span class="t" style="top:120px;line-height:20px;font-size:9.75px;color:#8794aa;font-family:'Liberation Sans','DejaVu Sans Condensed',sans-serif;left:30.2px;-webkit-text-stroke:.1px currentColor;">Target Date:</span><span class="t" style="top:120px;line-height:20px;font-size:10.7px;color:#dc2626;font-weight:700;left:89.19999999999999px;">8/28/2025</span></div></div>
<div class="hl" style="left:0;top:342px;width:231px;background:#dcdcdc"></div><div class="card" style="left:16px;top:354px;width:202px;height:149px;border-left-color:#f59e0b"><div class="cb"><span class="t" style="top:1px;line-height:20px;font-size:11.2px;color:#8a8a8a;right:3.5px;">8/24/2025</span><span class="bdg" style="top:14px;left:14px;width:58px;background:#e9faf4;color:#10b981;padding-left:19.700px"><svg class="i" style="left:9.400px;top:5.500px;width:9px;height:9px" viewBox="0 0 9 9"><path d="M1.200 5.200 3.300 7.600 7.800 1.300" fill="none" stroke="#10b981" stroke-width="1.500"/></svg>Active</span><span class="bdg" style="top:14px;right:14px;width:109px;background:#fff5e8;color:#f59e0b;padding-left:24.3px">Medium Priority</span><svg class="i" style="left:83.8px;top:19.5px;width:9px;height:9px" viewBox="0 0 10 10"><circle cx="5" cy="5" r="4.800" fill="#f4a23a"/><circle cx="3.800" cy="3.600" r="1.800" fill="#ffc46b"/></svg><div class="hl" style="left:14px;top:42px;width:168px;background:#e9e9e9"></div><span class="t" style="top:52px;line-height:20px;font-size:11.7px;color:#1a202c;font-weight:700;left:14px;">Problem Related</span><span class="tag" style="top:77px">Mobility &amp; Physical Function</span><svg class="i" style="left:16.7px;top:104.9px;width:7.400px;height:8.800px" viewBox="0 0 8 10" preserveAspectRatio="none"><rect x=".5" y="1" width="7" height="8.700" rx=".8" fill="#c98f6a"/><rect x="1.300" y="2" width="5.400" height="7" fill="#f3f0f5"/><rect x="2.500" y="0" width="3" height="2" rx=".5" fill="#9aa0a8"/><rect x="2" y="3.500" width="4" height=".8" fill="#b9a3c9"/><rect x="2" y="5.200" width="4" height=".8" fill="#b9a3c9"/><rect x="2" y="6.900" width="3" height=".8" fill="#b9a3c9"/></svg><span class="t" style="top:100px;line-height:20px;font-size:9.75px;color:#8794aa;font-family:'Liberation Sans','DejaVu Sans Condensed',sans-serif;left:30.2px;-webkit-text-stroke:.1px currentColor;">Domain:</span><span class="t" style="top:100px;line-height:20px;font-size:9.55px;color:#2d3748;font-weight:700;left:72.0px;">Physician</span><svg class="i" style="left:16px;top:125px;width:8.900px;height:9.100px" viewBox="0 0 10 10" preserveAspectRatio="none"><rect x=".3" y=".8" width="9.400" height="9" rx=".8" fill="#e8e4f3"/><rect x=".3" y=".8" width="9.400" height="3" fill="#3b82d6"/><g fill="#9a8fc4"><rect x="1.500" y="4.800" width="1.600" height="1.600"/><rect x="4.200" y="4.800" width="1.600" height="1.600"/><rect x="6.900" y="4.800" width="1.600" height="1.600"/><rect x="1.500" y="7.300" width="1.600" height="1.600"/><rect x="4.200" y="7.300" width="1.600" height="1.600"/><rect x="6.900" y="7.300" width="1.600" height="1.600"/></g></svg><span class="t" style="top:120px;line-height:20px;font-size:9.75px;color:#8794aa;font-family:'Liberation Sans','DejaVu Sans Condensed',sans-serif;left:30.2px;-webkit-text-stroke:.1px currentColor;">Target Date:</span><span class="t" style="top:120px;line-height:20px;font-size:10.7px;color:#dc2626;font-weight:700;left:89.19999999999999px;">8/24/2025</span></div></div>
<div class="hl" style="left:0;top:514px;width:231px;background:#dcdcdc"></div><div class="card" style="left:16px;top:525px;width:202px;height:150px;border-left-color:#f59e0b"><div class="cb"><span class="t" style="top:1px;line-height:20px;font-size:11.2px;color:#8a8a8a;right:3.5px;">8/29/2025</span><span class="bdg" style="top:15px;left:14px;width:58px;background:#e9faf4;color:#10b981;padding-left:19.700px"><svg class="i" style="left:9.400px;top:5.500px;width:9px;height:9px" viewBox="0 0 9 9"><path d="M1.200 5.200 3.300 7.600 7.800 1.300" fill="none" stroke="#10b981" stroke-width="1.500"/></svg>Active</span><span class="bdg" style="top:15px;right:14px;width:109px;background:#fff5e8;color:#f59e0b;padding-left:24.3px">Medium Priority</span><svg class="i" style="left:83.8px;top:20.5px;width:9px;height:9px" viewBox="0 0 10 10"><circle cx="5" cy="5" r="4.800" fill="#f4a23a"/><circle cx="3.800" cy="3.600" r="1.800" fill="#ffc46b"/></svg><div class="hl" style="left:14px;top:43px;width:168px;background:#e9e9e9"></div><span class="t" style="top:53px;line-height:20px;font-size:11.7px;color:#1a202c;font-weight:700;left:14px;">Impaired Mobility</span><span class="tag" style="top:78px">Mobility &amp; Physical Function</span><svg class="i" style="left:16.7px;top:105.9px;width:7.400px;height:8.800px" viewBox="0 0 8 10" preserveAspectRatio="none"><rect x=".5" y="1" width="7" height="8.700" rx=".8" fill="#c98f6a"/><rect x="1.300" y="2" width="5.400" height="7" fill="#f3f0f5"/><rect x="2.500" y="0" width="3" height="2" rx=".5" fill="#9aa0a8"/><rect x="2" y="3.500" width="4" height=".8" fill="#b9a3c9"/><rect x="2" y="5.200" width="4" height=".8" fill="#b9a3c9"/><rect x="2" y="6.900" width="3" height=".8" fill="#b9a3c9"/></svg><span class="t" style="top:101px;line-height:20px;font-size:9.75px;color:#8794aa;font-family:'Liberation Sans','DejaVu Sans Condensed',sans-serif;left:30.2px;-webkit-text-stroke:.1px currentColor;">Domain:</span><span class="t" style="top:101px;line-height:20px;font-size:9.55px;color:#2d3748;font-weight:700;left:72.0px;">Physician</span><svg class="i" style="left:16px;top:126px;width:8.900px;height:9.100px" viewBox="0 0 10 10" preserveAspectRatio="none"><rect x=".3" y=".8" width="9.400" height="9" rx=".8" fill="#e8e4f3"/><rect x=".3" y=".8" width="9.400" height="3" fill="#3b82d6"/><g fill="#9a8fc4"><rect x="1.500" y="4.800" width="1.600" height="1.600"/><rect x="4.200" y="4.800" width="1.600" height="1.600"/><rect x="6.900" y="4.800" width="1.600" height="1.600"/><rect x="1.500" y="7.300" width="1.600" height="1.600"/><rect x="4.200" y="7.300" width="1.600" height="1.600"/><rect x="6.900" y="7.300" width="1.600" height="1.600"/></g></svg><span class="t" style="top:121px;line-height:20px;font-size:9.75px;color:#8794aa;font-family:'Liberation Sans','DejaVu Sans Condensed',sans-serif;left:30.2px;-webkit-text-stroke:.1px currentColor;">Target Date:</span><span class="t" style="top:121px;line-height:20px;font-size:10.7px;color:#dc2626;font-weight:700;left:89.19999999999999px;">8/29/2025</span></div></div>
</div>
<div class="col" style="left:500px;width:231px;height:688px"><div class="card" style="left:16px;top:10px;width:202px;height:150px;border-left-color:#f59e0b"><div class="cb"><span class="t" style="top:2px;line-height:20px;font-size:11.2px;color:#8a8a8a;right:3.5px;">N/A</span><span class="bdg" style="top:15px;left:14px;width:58px;background:#e9faf4;color:#10b981;padding-left:19.700px"><svg class="i" style="left:9.400px;top:5.500px;width:9px;height:9px" viewBox="0 0 9 9"><path d="M1.200 5.200 3.300 7.600 7.800 1.300" fill="none" stroke="#10b981" stroke-width="1.500"/></svg>Active</span><span class="bdg" style="top:15px;right:14px;width:109px;background:#fff5e8;color:#f59e0b;padding-left:25.2px">Medium Priority</span><svg class="i" style="left:84.7px;top:20.5px;width:9px;height:9px" viewBox="0 0 10 10"><circle cx="5" cy="5" r="4.800" fill="#f4a23a"/><circle cx="3.800" cy="3.600" r="1.800" fill="#ffc46b"/></svg><div class="hl" style="left:14px;top:43px;width:168px;background:#e9e9e9"></div><span class="t" style="top:53px;line-height:20px;font-size:11.7px;color:#1a202c;font-weight:700;left:14px;">dffg</span><span class="tag" style="top:78px">Mobility &amp; Physical Function</span><svg class="i" style="left:16.7px;top:105.9px;width:7.400px;height:8.800px" viewBox="0 0 8 10" preserveAspectRatio="none"><rect x=".5" y="1" width="7" height="8.700" rx=".8" fill="#c98f6a"/><rect x="1.300" y="2" width="5.400" height="7" fill="#f3f0f5"/><rect x="2.500" y="0" width="3" height="2" rx=".5" fill="#9aa0a8"/><rect x="2" y="3.500" width="4" height=".8" fill="#b9a3c9"/><rect x="2" y="5.200" width="4" height=".8" fill="#b9a3c9"/><rect x="2" y="6.900" width="3" height=".8" fill="#b9a3c9"/></svg><span class="t" style="top:101px;line-height:20px;font-size:9.75px;color:#8794aa;font-family:'Liberation Sans','DejaVu Sans Condensed',sans-serif;left:30.2px;-webkit-text-stroke:.1px currentColor;">Domain:</span><span class="t" style="top:101px;line-height:20px;font-size:9.55px;color:#2d3748;font-weight:700;left:72.0px;">Physiotherapy</span><svg class="i" style="left:16px;top:126px;width:8.900px;height:9.100px" viewBox="0 0 10 10" preserveAspectRatio="none"><rect x=".3" y=".8" width="9.400" height="9" rx=".8" fill="#e8e4f3"/><rect x=".3" y=".8" width="9.400" height="3" fill="#3b82d6"/><g fill="#9a8fc4"><rect x="1.500" y="4.800" width="1.600" height="1.600"/><rect x="4.200" y="4.800" width="1.600" height="1.600"/><rect x="6.900" y="4.800" width="1.600" height="1.600"/><rect x="1.500" y="7.300" width="1.600" height="1.600"/><rect x="4.200" y="7.300" width="1.600" height="1.600"/><rect x="6.900" y="7.300" width="1.600" height="1.600"/></g></svg><span class="t" style="top:121px;line-height:20px;font-size:9.75px;color:#8794aa;font-family:'Liberation Sans','DejaVu Sans Condensed',sans-serif;left:30.2px;-webkit-text-stroke:.1px currentColor;">Target Date:</span><span class="t" style="top:121px;line-height:20px;font-size:9.55px;color:#2d3748;font-weight:700;left:89.19999999999999px;">-</span></div></div>
<div class="hl" style="left:0;top:171px;width:231px;background:#dcdcdc"></div><div class="card" style="left:16px;top:182px;width:202px;height:149px;border-left-color:#f59e0b"><div class="cb"><span class="t" style="top:1px;line-height:20px;font-size:11.2px;color:#8a8a8a;right:3.5px;">N/A</span><span class="bdg" style="top:15px;left:14px;width:58px;background:#e9faf4;color:#10b981;padding-left:19.700px"><svg class="i" style="left:9.400px;top:5.500px;width:9px;height:9px" viewBox="0 0 9 9"><path d="M1.200 5.200 3.300 7.600 7.800 1.300" fill="none" stroke="#10b981" stroke-width="1.500"/></svg>Active</span><span class="bdg" style="top:15px;right:14px;width:109px;background:#fff5e8;color:#f59e0b;padding-left:25.2px">Medium Priority</span><svg class="i" style="left:84.7px;top:20.5px;width:9px;height:9px" viewBox="0 0 10 10"><circle cx="5" cy="5" r="4.800" fill="#f4a23a"/><circle cx="3.800" cy="3.600" r="1.800" fill="#ffc46b"/></svg><div class="hl" style="left:14px;top:43px;width:168px;background:#e9e9e9"></div><span class="t" style="top:53px;line-height:20px;font-size:11.7px;color:#1a202c;font-weight:700;left:14px;">aa</span><span class="tag" style="top:77px">Nutrition &amp; Hydration</span><svg class="i" style="left:16.7px;top:104.9px;width:7.400px;height:8.800px" viewBox="0 0 8 10" preserveAspectRatio="none"><rect x=".5" y="1" width="7" height="8.700" rx=".8" fill="#c98f6a"/><rect x="1.300" y="2" width="5.400" height="7" fill="#f3f0f5"/><rect x="2.500" y="0" width="3" height="2" rx=".5" fill="#9aa0a8"/><rect x="2" y="3.500" width="4" height=".8" fill="#b9a3c9"/><rect x="2" y="5.200" width="4" height=".8" fill="#b9a3c9"/><rect x="2" y="6.900" width="3" height=".8" fill="#b9a3c9"/></svg><span class="t" style="top:100px;line-height:20px;font-size:9.75px;color:#8794aa;font-family:'Liberation Sans','DejaVu Sans Condensed',sans-serif;left:30.2px;-webkit-text-stroke:.1px currentColor;">Domain:</span><span class="t" style="top:100px;line-height:20px;font-size:9.55px;color:#2d3748;font-weight:700;left:72.0px;">Physician</span><svg class="i" style="left:16px;top:125px;width:8.900px;height:9.100px" viewBox="0 0 10 10" preserveAspectRatio="none"><rect x=".3" y=".8" width="9.400" height="9" rx=".8" fill="#e8e4f3"/><rect x=".3" y=".8" width="9.400" height="3" fill="#3b82d6"/><g fill="#9a8fc4"><rect x="1.500" y="4.800" width="1.600" height="1.600"/><rect x="4.200" y="4.800" width="1.600" height="1.600"/><rect x="6.900" y="4.800" width="1.600" height="1.600"/><rect x="1.500" y="7.300" width="1.600" height="1.600"/><rect x="4.200" y="7.300" width="1.600" height="1.600"/><rect x="6.900" y="7.300" width="1.600" height="1.600"/></g></svg><span class="t" style="top:120px;line-height:20px;font-size:9.75px;color:#8794aa;font-family:'Liberation Sans','DejaVu Sans Condensed',sans-serif;left:30.2px;-webkit-text-stroke:.1px currentColor;">Target Date:</span><span class="t" style="top:120px;line-height:20px;font-size:9.55px;color:#2d3748;font-weight:700;left:89.19999999999999px;">-</span></div></div>
<div class="hl" style="left:0;top:342px;width:231px;background:#dcdcdc"></div><div class="card" style="left:16px;top:354px;width:202px;height:149px;border-left-color:#f59e0b"><div class="cb"><span class="t" style="top:1px;line-height:20px;font-size:11.2px;color:#8a8a8a;right:3.5px;">11/9/2025</span><span class="bdg" style="top:14px;left:14px;width:58px;background:#e9faf4;color:#10b981;padding-left:19.700px"><svg class="i" style="left:9.400px;top:5.500px;width:9px;height:9px" viewBox="0 0 9 9"><path d="M1.200 5.200 3.300 7.600 7.800 1.300" fill="none" stroke="#10b981" stroke-width="1.500"/></svg>Active</span><span class="bdg" style="top:14px;right:14px;width:109px;background:#fff5e8;color:#f59e0b;padding-left:25.2px">Medium Priority</span><svg class="i" style="left:84.7px;top:19.5px;width:9px;height:9px" viewBox="0 0 10 10"><circle cx="5" cy="5" r="4.800" fill="#f4a23a"/><circle cx="3.800" cy="3.600" r="1.800" fill="#ffc46b"/></svg><div class="hl" style="left:14px;top:42px;width:168px;background:#e9e9e9"></div><span class="t" style="top:52px;line-height:20px;font-size:11.7px;color:#1a202c;font-weight:700;left:14px;">having problem</span><span class="tag" style="top:77px">Cognitive &amp; Mental Health</span><svg class="i" style="left:16.7px;top:104.9px;width:7.400px;height:8.800px" viewBox="0 0 8 10" preserveAspectRatio="none"><rect x=".5" y="1" width="7" height="8.700" rx=".8" fill="#c98f6a"/><rect x="1.300" y="2" width="5.400" height="7" fill="#f3f0f5"/><rect x="2.500" y="0" width="3" height="2" rx=".5" fill="#9aa0a8"/><rect x="2" y="3.500" width="4" height=".8" fill="#b9a3c9"/><rect x="2" y="5.200" width="4" height=".8" fill="#b9a3c9"/><rect x="2" y="6.900" width="3" height=".8" fill="#b9a3c9"/></svg><span class="t" style="top:100px;line-height:20px;font-size:9.75px;color:#8794aa;font-family:'Liberation Sans','DejaVu Sans Condensed',sans-serif;left:30.2px;-webkit-text-stroke:.1px currentColor;">Domain:</span><span class="t" style="top:100px;line-height:20px;font-size:9.55px;color:#2d3748;font-weight:700;left:72.0px;">Cognitive Status</span><svg class="i" style="left:16px;top:125px;width:8.900px;height:9.100px" viewBox="0 0 10 10" preserveAspectRatio="none"><rect x=".3" y=".8" width="9.400" height="9" rx=".8" fill="#e8e4f3"/><rect x=".3" y=".8" width="9.400" height="3" fill="#3b82d6"/><g fill="#9a8fc4"><rect x="1.500" y="4.800" width="1.600" height="1.600"/><rect x="4.200" y="4.800" width="1.600" height="1.600"/><rect x="6.900" y="4.800" width="1.600" height="1.600"/><rect x="1.500" y="7.300" width="1.600" height="1.600"/><rect x="4.200" y="7.300" width="1.600" height="1.600"/><rect x="6.900" y="7.300" width="1.600" height="1.600"/></g></svg><span class="t" style="top:120px;line-height:20px;font-size:9.75px;color:#8794aa;font-family:'Liberation Sans','DejaVu Sans Condensed',sans-serif;left:30.2px;-webkit-text-stroke:.1px currentColor;">Target Date:</span><span class="t" style="top:120px;line-height:20px;font-size:10.7px;color:#dc2626;font-weight:700;left:89.19999999999999px;">11/9/2025</span></div></div>
<div class="hl" style="left:0;top:514px;width:231px;background:#dcdcdc"></div><div class="card" style="left:16px;top:525px;width:202px;height:150px;border-left-color:#dc2626"><div class="cb"><span class="t" style="top:1px;line-height:20px;font-size:11.2px;color:#8a8a8a;right:3.5px;">11/10/2025</span><span class="bdg" style="top:15px;left:14px;width:58px;background:#e9faf4;color:#10b981;padding-left:19.700px"><svg class="i" style="left:9.400px;top:5.500px;width:9px;height:9px" viewBox="0 0 9 9"><path d="M1.200 5.200 3.300 7.600 7.800 1.300" fill="none" stroke="#10b981" stroke-width="1.500"/></svg>Active</span><span class="bdg" style="top:15px;right:14px;width:93px;background:#fdecec;color:#dc2626;padding-left:25.2px">High Priority</span><svg class="i" style="left:100.7px;top:20.5px;width:9px;height:9px" viewBox="0 0 10 10"><circle cx="5" cy="5" r="4.800" fill="#e23b3b"/><circle cx="3.800" cy="3.600" r="1.800" fill="#f26b6b"/></svg><div class="hl" style="left:14px;top:43px;width:168px;background:#e9e9e9"></div><span class="t" style="top:53px;line-height:20px;font-size:11.7px;color:#1a202c;font-weight:700;left:14px;">problem Statement</span><span class="tag" style="top:78px">Mobility &amp; Physical Function</span><svg class="i" style="left:16.7px;top:105.9px;width:7.400px;height:8.800px" viewBox="0 0 8 10" preserveAspectRatio="none"><rect x=".5" y="1" width="7" height="8.700" rx=".8" fill="#c98f6a"/><rect x="1.300" y="2" width="5.400" height="7" fill="#f3f0f5"/><rect x="2.500" y="0" width="3" height="2" rx=".5" fill="#9aa0a8"/><rect x="2" y="3.500" width="4" height=".8" fill="#b9a3c9"/><rect x="2" y="5.200" width="4" height=".8" fill="#b9a3c9"/><rect x="2" y="6.900" width="3" height=".8" fill="#b9a3c9"/></svg><span class="t" style="top:101px;line-height:20px;font-size:9.75px;color:#8794aa;font-family:'Liberation Sans','DejaVu Sans Condensed',sans-serif;left:30.2px;-webkit-text-stroke:.1px currentColor;">Domain:</span><span class="t" style="top:101px;line-height:20px;font-size:9.55px;color:#2d3748;font-weight:700;left:72.0px;">Medical Management</span><svg class="i" style="left:16px;top:126px;width:8.900px;height:9.100px" viewBox="0 0 10 10" preserveAspectRatio="none"><rect x=".3" y=".8" width="9.400" height="9" rx=".8" fill="#e8e4f3"/><rect x=".3" y=".8" width="9.400" height="3" fill="#3b82d6"/><g fill="#9a8fc4"><rect x="1.500" y="4.800" width="1.600" height="1.600"/><rect x="4.200" y="4.800" width="1.600" height="1.600"/><rect x="6.900" y="4.800" width="1.600" height="1.600"/><rect x="1.500" y="7.300" width="1.600" height="1.600"/><rect x="4.200" y="7.300" width="1.600" height="1.600"/><rect x="6.900" y="7.300" width="1.600" height="1.600"/></g></svg><span class="t" style="top:121px;line-height:20px;font-size:9.75px;color:#8794aa;font-family:'Liberation Sans','DejaVu Sans Condensed',sans-serif;left:30.2px;-webkit-text-stroke:.1px currentColor;">Target Date:</span><span class="t" style="top:121px;line-height:20px;font-size:10.7px;color:#dc2626;font-weight:700;left:89.19999999999999px;">11/10/2025</span></div></div>
</div>
<div class="col" style="left:743px;width:231px;height:173px"><div class="card" style="left:16px;top:10px;width:201px;height:150px;border-left-color:#10b981"><div class="cb"><span class="t" style="top:2px;line-height:20px;font-size:11.2px;color:#8a8a8a;right:3.5px;">11/10/2025</span><span class="bdg" style="top:15px;left:14px;width:58px;background:#e9faf4;color:#10b981;padding-left:19.700px"><svg class="i" style="left:9.400px;top:5.500px;width:9px;height:9px" viewBox="0 0 9 9"><path d="M1.200 5.200 3.300 7.600 7.800 1.300" fill="none" stroke="#10b981" stroke-width="1.500"/></svg>Active</span><span class="bdg" style="top:15px;right:14px;width:91px;background:#e6f8f1;color:#10b981;padding-left:25.2px">Low Priority</span><svg class="i" style="left:101.7px;top:20.5px;width:9px;height:9px" viewBox="0 0 10 10"><circle cx="5" cy="5" r="4.800" fill="#2fb37c"/><circle cx="3.800" cy="3.600" r="1.800" fill="#6fd6a8"/></svg><div class="hl" style="left:14px;top:43px;width:167px;background:#e9e9e9"></div><span class="t" style="top:53px;line-height:20px;font-size:11.7px;color:#1a202c;font-weight:700;left:14px;">Problem Statement</span><span class="tag" style="top:78px">Rehabilitation / Therapy Needs</span><svg class="i" style="left:16.7px;top:105.9px;width:7.400px;height:8.800px" viewBox="0 0 8 10" preserveAspectRatio="none"><rect x=".5" y="1" width="7" height="8.700" rx=".8" fill="#c98f6a"/><rect x="1.300" y="2" width="5.400" height="7" fill="#f3f0f5"/><rect x="2.500" y="0" width="3" height="2" rx=".5" fill="#9aa0a8"/><rect x="2" y="3.500" width="4" height=".8" fill="#b9a3c9"/><rect x="2" y="5.200" width="4" height=".8" fill="#b9a3c9"/><rect x="2" y="6.900" width="3" height=".8" fill="#b9a3c9"/></svg><span class="t" style="top:101px;line-height:20px;font-size:9.75px;color:#8794aa;font-family:'Liberation Sans','DejaVu Sans Condensed',sans-serif;left:30.2px;-webkit-text-stroke:.1px currentColor;">Domain:</span><span class="t" style="top:101px;line-height:20px;font-size:9.55px;color:#2d3748;font-weight:700;left:72.0px;">Nutrition</span><svg class="i" style="left:16px;top:126px;width:8.900px;height:9.100px" viewBox="0 0 10 10" preserveAspectRatio="none"><rect x=".3" y=".8" width="9.400" height="9" rx=".8" fill="#e8e4f3"/><rect x=".3" y=".8" width="9.400" height="3" fill="#3b82d6"/><g fill="#9a8fc4"><rect x="1.500" y="4.800" width="1.600" height="1.600"/><rect x="4.200" y="4.800" width="1.600" height="1.600"/><rect x="6.900" y="4.800" width="1.600" height="1.600"/><rect x="1.500" y="7.300" width="1.600" height="1.600"/><rect x="4.200" y="7.300" width="1.600" height="1.600"/><rect x="6.900" y="7.300" width="1.600" height="1.600"/></g></svg><span class="t" style="top:121px;line-height:20px;font-size:9.75px;color:#8794aa;font-family:'Liberation Sans','DejaVu Sans Condensed',sans-serif;left:30.2px;-webkit-text-stroke:.1px currentColor;">Target Date:</span><span class="t" style="top:121px;line-height:20px;font-size:10.7px;color:#dc2626;font-weight:700;left:89.19999999999999px;">11/10/2025</span></div></div>
</div>
<div class="hl" style="left:0;top:1070px;width:1026px"></div><div class="a" style="left:1018px;top:57px;width:8px;height:804px;background:#a9a9a9"></div><div class="a" style="left:822px;top:5px;width:49px;height:45px;border-radius:14px;background:#f5f7fa;box-shadow:0 8px 18px rgba(0,0,0,.13)"></div><svg class="i" style="left:839.3px;top:20.5px;width:15px;height:15px;fill:#4a5bb8;" viewBox="0 0 24 24"><path d="M12 22c1.1 0 2-.9 2-2h-4c0 1.1.9 2 2 2zm6-6v-5c0-3.07-1.63-5.64-4.5-6.32V4c0-.83-.67-1.5-1.5-1.5s-1.5.67-1.5 1.5v.68C7.64 5.36 6 7.92 6 11v5l-2 2v1h16v-1l-2-2zm-2 1H8v-6c0-2.48 1.51-4.5 4-4.5s4 2.02 4 4.5v6z"/></svg><div class="a" style="left:840.2px;top:-2.700px;width:35.600px;height:25.400px;border-radius:12.700px;background:#f0603f"></div><span class="t" style="top:2.80px;line-height:20px;font-size:10.3px;color:#fff;font-weight:700;font-family:'Liberation Sans','DejaVu Sans Condensed',sans-serif;left:708px;width:300px;text-align:center;">26</span></div>
</body></html>
